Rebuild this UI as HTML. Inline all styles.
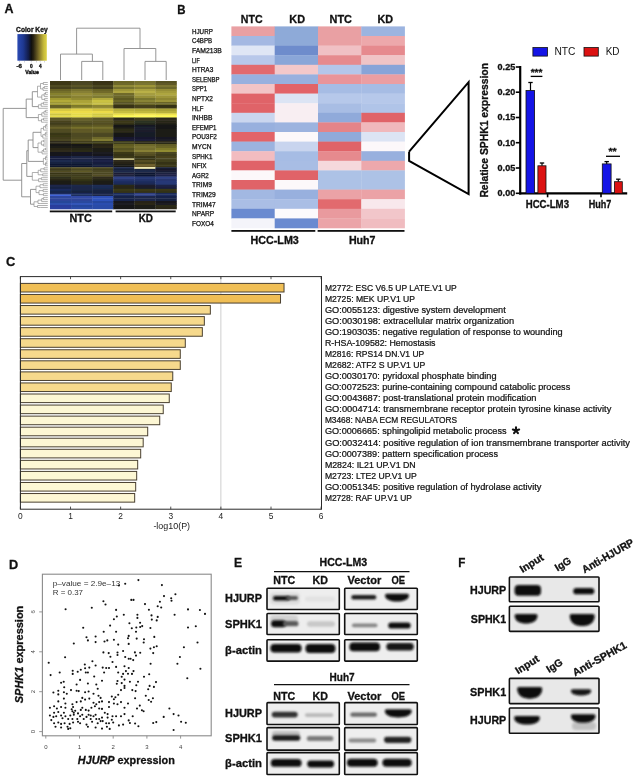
<!DOCTYPE html>
<html><head><meta charset="utf-8"><style>
html,body{margin:0;padding:0;background:#fff;}
body{width:639px;height:779px;overflow:hidden;}
svg{display:block;filter:blur(0.3px);}
text{font-family:"Liberation Sans",sans-serif;}
</style></head><body>
<svg width="639" height="779" viewBox="0 0 639 779" font-family="Liberation Sans, sans-serif">
<rect width="639" height="779" fill="#fff"/>
<text x="4.6" y="13.4" font-size="12.4" font-weight="bold" text-anchor="start" textLength="9.0" lengthAdjust="spacingAndGlyphs" fill="#111"  stroke="#111" stroke-width="0.3">A</text>
<text x="16.1" y="32.2" font-size="6.4" font-weight="bold" text-anchor="start" textLength="31.5" lengthAdjust="spacingAndGlyphs" fill="#111"  stroke="#111" stroke-width="0.3">Color Key</text>
<defs><linearGradient id="ck" x1="0" x2="1" y1="0" y2="0">
<stop offset="0" stop-color="#2a4ab4"/><stop offset="0.2" stop-color="#1e3890"/><stop offset="0.38" stop-color="#121c48"/>
<stop offset="0.47" stop-color="#0e0e0e"/><stop offset="0.55" stop-color="#2a2412"/><stop offset="0.72" stop-color="#7a6c28"/>
<stop offset="0.9" stop-color="#c8bc3c"/><stop offset="1" stop-color="#ddd244"/></linearGradient>
<filter id="blr" x="-20%" y="-50%" width="140%" height="200%"><feGaussianBlur stdDeviation="0.9"/></filter>
<filter id="blr2" x="-20%" y="-50%" width="140%" height="200%"><feGaussianBlur stdDeviation="1.3"/></filter>
<filter id="blr0" x="-5%" y="-5%" width="110%" height="110%"><feGaussianBlur stdDeviation="0.35"/></filter>
</defs>
<rect x="17.40" y="34.10" width="29.40" height="26.60" fill="url(#ck)" />
<line x1="19.4" y1="61.2" x2="19.4" y2="62.4" stroke="#99a" stroke-width="0.5" />
<line x1="24.5" y1="61.2" x2="24.5" y2="62.4" stroke="#99a" stroke-width="0.5" />
<line x1="31.3" y1="61.2" x2="31.3" y2="62.4" stroke="#99a" stroke-width="0.5" />
<line x1="36.5" y1="61.2" x2="36.5" y2="62.4" stroke="#99a" stroke-width="0.5" />
<line x1="40.2" y1="61.2" x2="40.2" y2="62.4" stroke="#99a" stroke-width="0.5" />
<line x1="44.5" y1="61.2" x2="44.5" y2="62.4" stroke="#99a" stroke-width="0.5" />
<text x="16.5" y="68.2" font-size="4.6" font-weight="bold" text-anchor="start" textLength="5.4" lengthAdjust="spacingAndGlyphs" fill="#111"  stroke="#111" stroke-width="0.3">-6</text>
<text x="30.0" y="68.2" font-size="4.6" font-weight="bold" text-anchor="start" textLength="2.7" lengthAdjust="spacingAndGlyphs" fill="#111"  stroke="#111" stroke-width="0.3">0</text>
<text x="39.0" y="68.2" font-size="4.6" font-weight="bold" text-anchor="start" textLength="2.6" lengthAdjust="spacingAndGlyphs" fill="#111"  stroke="#111" stroke-width="0.3">4</text>
<text x="25.3" y="74.0" font-size="4.6" font-weight="bold" text-anchor="start" textLength="13.5" lengthAdjust="spacingAndGlyphs" fill="#111"  stroke="#111" stroke-width="0.3">Value</text>
<polyline points="76.6,54.1 76.6,28.2 140.0,28.2 140.0,48.5" fill="none" stroke="#8a8a8a" stroke-width="0.9"/>
<polyline points="60.5,80.0 60.5,54.1 92.4,54.1 92.4,61.4" fill="none" stroke="#8a8a8a" stroke-width="0.9"/>
<polyline points="81.7,80.0 81.7,61.4 102.8,61.4 102.8,80.0" fill="none" stroke="#8a8a8a" stroke-width="0.9"/>
<polyline points="124.0,80.0 124.0,48.5 155.8,48.5 155.8,61.4" fill="none" stroke="#8a8a8a" stroke-width="0.9"/>
<polyline points="145.0,80.0 145.0,61.4 166.2,61.4 166.2,80.0" fill="none" stroke="#8a8a8a" stroke-width="0.9"/>
<g filter="url(#blr0)">
<rect x="50.00" y="81.00" width="21.38" height="2.30" fill="#3d3919" />
<rect x="50.00" y="83.00" width="21.38" height="2.30" fill="#3d3918" />
<rect x="71.08" y="81.00" width="21.38" height="2.30" fill="#494420" />
<rect x="71.08" y="83.00" width="21.38" height="2.30" fill="#4c4621" />
<rect x="92.17" y="81.00" width="21.38" height="2.30" fill="#383314" />
<rect x="92.17" y="83.00" width="21.38" height="2.30" fill="#3b3615" />
<rect x="113.25" y="81.00" width="21.38" height="2.30" fill="#6a6528" />
<rect x="113.25" y="83.00" width="21.38" height="2.30" fill="#6e692a" />
<rect x="134.33" y="81.00" width="21.38" height="2.30" fill="#756f2e" />
<rect x="134.33" y="83.00" width="21.38" height="2.30" fill="#7a7430" />
<rect x="155.42" y="81.00" width="21.38" height="2.30" fill="#565123" />
<rect x="155.42" y="83.00" width="21.38" height="2.30" fill="#5e5826" />
<rect x="50.00" y="85.00" width="21.38" height="2.30" fill="#504b23" />
<rect x="50.00" y="87.00" width="21.38" height="2.30" fill="#44401e" />
<rect x="71.08" y="85.00" width="21.38" height="2.30" fill="#5a5527" />
<rect x="71.08" y="87.00" width="21.38" height="2.30" fill="#4c4821" />
<rect x="92.17" y="85.00" width="21.38" height="2.30" fill="#4b4621" />
<rect x="92.17" y="87.00" width="21.38" height="2.30" fill="#3f3b1b" />
<rect x="113.25" y="85.00" width="21.38" height="2.30" fill="#918b38" />
<rect x="113.25" y="87.00" width="21.38" height="2.30" fill="#76722e" />
<rect x="134.33" y="85.00" width="21.38" height="2.30" fill="#9d9539" />
<rect x="134.33" y="87.00" width="21.38" height="2.30" fill="#867f31" />
<rect x="155.42" y="85.00" width="21.38" height="2.30" fill="#7b7530" />
<rect x="155.42" y="87.00" width="21.38" height="2.30" fill="#6c672b" />
<rect x="50.00" y="89.00" width="21.38" height="2.30" fill="#696427" />
<rect x="50.00" y="91.00" width="21.38" height="2.30" fill="#746f2c" />
<rect x="71.08" y="89.00" width="21.38" height="2.30" fill="#78722f" />
<rect x="71.08" y="91.00" width="21.38" height="2.30" fill="#867f35" />
<rect x="92.17" y="89.00" width="21.38" height="2.30" fill="#686327" />
<rect x="92.17" y="91.00" width="21.38" height="2.30" fill="#716b2b" />
<rect x="113.25" y="89.00" width="21.38" height="2.30" fill="#9e9639" />
<rect x="113.25" y="91.00" width="21.38" height="2.30" fill="#ada43f" />
<rect x="134.33" y="89.00" width="21.38" height="2.30" fill="#aaa241" />
<rect x="134.33" y="91.00" width="21.38" height="2.30" fill="#b9b046" />
<rect x="155.42" y="89.00" width="21.38" height="2.30" fill="#968e36" />
<rect x="155.42" y="91.00" width="21.38" height="2.30" fill="#a39b3b" />
<rect x="50.00" y="93.00" width="21.38" height="2.80" fill="#86812f" />
<rect x="50.00" y="95.50" width="21.38" height="2.80" fill="#7b762b" />
<rect x="71.08" y="93.00" width="21.38" height="2.80" fill="#968e37" />
<rect x="71.08" y="95.50" width="21.38" height="2.80" fill="#898232" />
<rect x="92.17" y="93.00" width="21.38" height="2.80" fill="#888334" />
<rect x="92.17" y="95.50" width="21.38" height="2.80" fill="#7f7b31" />
<rect x="113.25" y="93.00" width="21.38" height="2.80" fill="#6f6a2c" />
<rect x="113.25" y="95.50" width="21.38" height="2.80" fill="#6b662a" />
<rect x="134.33" y="93.00" width="21.38" height="2.80" fill="#a59d3f" />
<rect x="134.33" y="95.50" width="21.38" height="2.80" fill="#968f39" />
<rect x="155.42" y="93.00" width="21.38" height="2.80" fill="#aea63f" />
<rect x="155.42" y="95.50" width="21.38" height="2.80" fill="#9d9539" />
<rect x="50.00" y="98.00" width="21.38" height="2.30" fill="#a19a33" />
<rect x="50.00" y="100.00" width="21.38" height="2.30" fill="#b2aa39" />
<rect x="71.08" y="98.00" width="21.38" height="2.30" fill="#928b31" />
<rect x="71.08" y="100.00" width="21.38" height="2.30" fill="#aba339" />
<rect x="92.17" y="98.00" width="21.38" height="2.30" fill="#b3ab3c" />
<rect x="92.17" y="100.00" width="21.38" height="2.30" fill="#cac243" />
<rect x="113.25" y="98.00" width="21.38" height="2.30" fill="#5c5823" />
<rect x="113.25" y="100.00" width="21.38" height="2.30" fill="#6b6628" />
<rect x="134.33" y="98.00" width="21.38" height="2.30" fill="#78742e" />
<rect x="134.33" y="100.00" width="21.38" height="2.30" fill="#898435" />
<rect x="155.42" y="98.00" width="21.38" height="2.30" fill="#8e8633" />
<rect x="155.42" y="100.00" width="21.38" height="2.30" fill="#9b9338" />
<rect x="50.00" y="102.00" width="21.38" height="1.80" fill="#9e9834" />
<rect x="50.00" y="103.50" width="21.38" height="1.80" fill="#a19b35" />
<rect x="71.08" y="102.00" width="21.38" height="1.80" fill="#ada537" />
<rect x="71.08" y="103.50" width="21.38" height="1.80" fill="#b0a838" />
<rect x="92.17" y="102.00" width="21.38" height="1.80" fill="#c5bd44" />
<rect x="92.17" y="103.50" width="21.38" height="1.80" fill="#c4bc44" />
<rect x="113.25" y="102.00" width="21.38" height="1.80" fill="#595425" />
<rect x="113.25" y="103.50" width="21.38" height="1.80" fill="#575224" />
<rect x="134.33" y="102.00" width="21.38" height="1.80" fill="#706a2a" />
<rect x="134.33" y="103.50" width="21.38" height="1.80" fill="#6b6628" />
<rect x="155.42" y="102.00" width="21.38" height="1.80" fill="#6a6528" />
<rect x="155.42" y="103.50" width="21.38" height="1.80" fill="#6c6729" />
<rect x="50.00" y="105.00" width="21.38" height="2.05" fill="#656126" />
<rect x="50.00" y="106.75" width="21.38" height="2.05" fill="#686427" />
<rect x="71.08" y="105.00" width="21.38" height="2.05" fill="#7c782b" />
<rect x="71.08" y="106.75" width="21.38" height="2.05" fill="#8c8731" />
<rect x="92.17" y="105.00" width="21.38" height="2.05" fill="#8c8533" />
<rect x="92.17" y="106.75" width="21.38" height="2.05" fill="#938c36" />
<rect x="113.25" y="105.00" width="21.38" height="2.05" fill="#373214" />
<rect x="113.25" y="106.75" width="21.38" height="2.05" fill="#383314" />
<rect x="134.33" y="105.00" width="21.38" height="2.05" fill="#443f1d" />
<rect x="134.33" y="106.75" width="21.38" height="2.05" fill="#46411e" />
<rect x="155.42" y="105.00" width="21.38" height="2.05" fill="#343013" />
<rect x="155.42" y="106.75" width="21.38" height="2.05" fill="#393415" />
<rect x="50.00" y="108.50" width="21.38" height="2.80" fill="#d7c943" />
<rect x="50.00" y="111.00" width="21.38" height="2.80" fill="#eddc49" />
<rect x="71.08" y="108.50" width="21.38" height="2.80" fill="#e2d246" />
<rect x="71.08" y="111.00" width="21.38" height="2.80" fill="#eddd4a" />
<rect x="92.17" y="108.50" width="21.38" height="2.80" fill="#d3c441" />
<rect x="92.17" y="111.00" width="21.38" height="2.80" fill="#ecdb49" />
<rect x="113.25" y="108.50" width="21.38" height="2.80" fill="#b7b03b" />
<rect x="113.25" y="111.00" width="21.38" height="2.80" fill="#c7bf40" />
<rect x="134.33" y="108.50" width="21.38" height="2.80" fill="#b2ab38" />
<rect x="134.33" y="111.00" width="21.38" height="2.80" fill="#c1b93d" />
<rect x="155.42" y="108.50" width="21.38" height="2.80" fill="#a9a235" />
<rect x="155.42" y="111.00" width="21.38" height="2.80" fill="#b8b03a" />
<rect x="50.00" y="113.50" width="21.38" height="2.30" fill="#cec642" />
<rect x="50.00" y="115.50" width="21.38" height="2.30" fill="#e5dc49" />
<rect x="71.08" y="113.50" width="21.38" height="2.30" fill="#e3da48" />
<rect x="71.08" y="115.50" width="21.38" height="2.30" fill="#e8df4a" />
<rect x="92.17" y="113.50" width="21.38" height="2.30" fill="#d2ca43" />
<rect x="92.17" y="115.50" width="21.38" height="2.30" fill="#d6ce45" />
<rect x="113.25" y="113.50" width="21.38" height="2.30" fill="#ece049" />
<rect x="113.25" y="115.50" width="21.38" height="2.30" fill="#fffc53" />
<rect x="134.33" y="113.50" width="21.38" height="2.30" fill="#f8e853" />
<rect x="134.33" y="115.50" width="21.38" height="2.30" fill="#fffc5a" />
<rect x="155.42" y="113.50" width="21.38" height="2.30" fill="#f1e44b" />
<rect x="155.42" y="115.50" width="21.38" height="2.30" fill="#fffa52" />
<rect x="50.00" y="117.50" width="21.38" height="1.85" fill="#5a5525" />
<rect x="50.00" y="119.05" width="21.38" height="1.85" fill="#575224" />
<rect x="71.08" y="117.50" width="21.38" height="1.85" fill="#696428" />
<rect x="71.08" y="119.05" width="21.38" height="1.85" fill="#635e25" />
<rect x="92.17" y="117.50" width="21.38" height="1.85" fill="#5d5726" />
<rect x="92.17" y="119.05" width="21.38" height="1.85" fill="#585324" />
<rect x="113.25" y="117.50" width="21.38" height="1.85" fill="#2b2919" />
<rect x="113.25" y="119.05" width="21.38" height="1.85" fill="#272516" />
<rect x="134.33" y="117.50" width="21.38" height="1.85" fill="#3d3b19" />
<rect x="134.33" y="119.05" width="21.38" height="1.85" fill="#363416" />
<rect x="155.42" y="117.50" width="21.38" height="1.85" fill="#292718" />
<rect x="155.42" y="119.05" width="21.38" height="1.85" fill="#272516" />
<rect x="50.00" y="120.60" width="21.38" height="2.35" fill="#47421f" />
<rect x="50.00" y="122.65" width="21.38" height="2.35" fill="#413d1c" />
<rect x="71.08" y="120.60" width="21.38" height="2.35" fill="#595425" />
<rect x="71.08" y="122.65" width="21.38" height="2.35" fill="#4e4a20" />
<rect x="92.17" y="120.60" width="21.38" height="2.35" fill="#585324" />
<rect x="92.17" y="122.65" width="21.38" height="2.35" fill="#534e22" />
<rect x="113.25" y="120.60" width="21.38" height="2.35" fill="#3b3919" />
<rect x="113.25" y="122.65" width="21.38" height="2.35" fill="#353316" />
<rect x="134.33" y="120.60" width="21.38" height="2.35" fill="#2a3020" />
<rect x="134.33" y="122.65" width="21.38" height="2.35" fill="#262b1d" />
<rect x="155.42" y="120.60" width="21.38" height="2.35" fill="#282617" />
<rect x="155.42" y="122.65" width="21.38" height="2.35" fill="#242215" />
<rect x="50.00" y="124.70" width="21.38" height="2.35" fill="#514c21" />
<rect x="50.00" y="126.75" width="21.38" height="2.35" fill="#67612a" />
<rect x="71.08" y="124.70" width="21.38" height="2.35" fill="#5a5622" />
<rect x="71.08" y="126.75" width="21.38" height="2.35" fill="#76702c" />
<rect x="92.17" y="124.70" width="21.38" height="2.35" fill="#5e5923" />
<rect x="92.17" y="126.75" width="21.38" height="2.35" fill="#77712d" />
<rect x="113.25" y="124.70" width="21.38" height="2.35" fill="#171712" />
<rect x="113.25" y="126.75" width="21.38" height="2.35" fill="#1e1e18" />
<rect x="134.33" y="124.70" width="21.38" height="2.35" fill="#161924" />
<rect x="134.33" y="126.75" width="21.38" height="2.35" fill="#1d202e" />
<rect x="155.42" y="124.70" width="21.38" height="2.35" fill="#131313" />
<rect x="155.42" y="126.75" width="21.38" height="2.35" fill="#181818" />
<rect x="50.00" y="128.80" width="21.38" height="2.30" fill="#504b23" />
<rect x="50.00" y="130.80" width="21.38" height="2.30" fill="#504b23" />
<rect x="71.08" y="128.80" width="21.38" height="2.30" fill="#5e5927" />
<rect x="71.08" y="130.80" width="21.38" height="2.30" fill="#605a27" />
<rect x="92.17" y="128.80" width="21.38" height="2.30" fill="#625d28" />
<rect x="92.17" y="130.80" width="21.38" height="2.30" fill="#615c28" />
<rect x="113.25" y="128.80" width="21.38" height="2.30" fill="#2c2a19" />
<rect x="113.25" y="130.80" width="21.38" height="2.30" fill="#2d2b1a" />
<rect x="134.33" y="128.80" width="21.38" height="2.30" fill="#1c202e" />
<rect x="134.33" y="130.80" width="21.38" height="2.30" fill="#1b1f2c" />
<rect x="155.42" y="128.80" width="21.38" height="2.30" fill="#1c1c16" />
<rect x="155.42" y="130.80" width="21.38" height="2.30" fill="#1b1b16" />
<rect x="50.00" y="132.80" width="21.38" height="2.35" fill="#393718" />
<rect x="50.00" y="134.85" width="21.38" height="2.35" fill="#3c3a19" />
<rect x="71.08" y="132.80" width="21.38" height="2.35" fill="#4e4922" />
<rect x="71.08" y="134.85" width="21.38" height="2.35" fill="#4e4922" />
<rect x="92.17" y="132.80" width="21.38" height="2.35" fill="#4d4821" />
<rect x="92.17" y="134.85" width="21.38" height="2.35" fill="#4b4621" />
<rect x="113.25" y="132.80" width="21.38" height="2.35" fill="#161616" />
<rect x="113.25" y="134.85" width="21.38" height="2.35" fill="#161616" />
<rect x="134.33" y="132.80" width="21.38" height="2.35" fill="#151a26" />
<rect x="134.33" y="134.85" width="21.38" height="2.35" fill="#161b27" />
<rect x="155.42" y="132.80" width="21.38" height="2.35" fill="#1a1a15" />
<rect x="155.42" y="134.85" width="21.38" height="2.35" fill="#1b1b16" />
<rect x="50.00" y="136.90" width="21.38" height="2.35" fill="#423d1c" />
<rect x="50.00" y="138.95" width="21.38" height="2.35" fill="#4a4520" />
<rect x="71.08" y="136.90" width="21.38" height="2.35" fill="#514d21" />
<rect x="71.08" y="138.95" width="21.38" height="2.35" fill="#5c5726" />
<rect x="92.17" y="136.90" width="21.38" height="2.35" fill="#6d682b" />
<rect x="92.17" y="138.95" width="21.38" height="2.35" fill="#817b33" />
<rect x="113.25" y="136.90" width="21.38" height="2.35" fill="#17192e" />
<rect x="113.25" y="138.95" width="21.38" height="2.35" fill="#1a1d34" />
<rect x="134.33" y="136.90" width="21.38" height="2.35" fill="#17192e" />
<rect x="134.33" y="138.95" width="21.38" height="2.35" fill="#1b1e37" />
<rect x="155.42" y="136.90" width="21.38" height="2.35" fill="#171720" />
<rect x="155.42" y="138.95" width="21.38" height="2.35" fill="#1a1a25" />
<rect x="50.00" y="141.00" width="21.38" height="1.80" fill="#2e2c1a" />
<rect x="50.00" y="142.50" width="21.38" height="1.80" fill="#2d2b1a" />
<rect x="71.08" y="141.00" width="21.38" height="1.80" fill="#3f3d1a" />
<rect x="71.08" y="142.50" width="21.38" height="1.80" fill="#3d3b19" />
<rect x="92.17" y="141.00" width="21.38" height="1.80" fill="#3e3c1a" />
<rect x="92.17" y="142.50" width="21.38" height="1.80" fill="#3c3a19" />
<rect x="113.25" y="141.00" width="21.38" height="1.80" fill="#413f1b" />
<rect x="113.25" y="142.50" width="21.38" height="1.80" fill="#3e3c1a" />
<rect x="134.33" y="141.00" width="21.38" height="1.80" fill="#2f2d1b" />
<rect x="134.33" y="142.50" width="21.38" height="1.80" fill="#2b2919" />
<rect x="155.42" y="141.00" width="21.38" height="1.80" fill="#2e2c1b" />
<rect x="155.42" y="142.50" width="21.38" height="1.80" fill="#2b2919" />
<rect x="50.00" y="144.00" width="21.38" height="2.30" fill="#181814" />
<rect x="50.00" y="146.00" width="21.38" height="2.30" fill="#1b1b16" />
<rect x="71.08" y="144.00" width="21.38" height="2.30" fill="#181813" />
<rect x="71.08" y="146.00" width="21.38" height="2.30" fill="#1b1b16" />
<rect x="92.17" y="144.00" width="21.38" height="2.30" fill="#262416" />
<rect x="92.17" y="146.00" width="21.38" height="2.30" fill="#292717" />
<rect x="113.25" y="144.00" width="21.38" height="2.30" fill="#605c24" />
<rect x="113.25" y="146.00" width="21.38" height="2.30" fill="#686327" />
<rect x="134.33" y="144.00" width="21.38" height="2.30" fill="#6d672b" />
<rect x="134.33" y="146.00" width="21.38" height="2.30" fill="#797330" />
<rect x="155.42" y="144.00" width="21.38" height="2.30" fill="#625d25" />
<rect x="155.42" y="146.00" width="21.38" height="2.30" fill="#6a6528" />
<rect x="50.00" y="148.00" width="21.38" height="2.30" fill="#2a2818" />
<rect x="50.00" y="150.00" width="21.38" height="2.30" fill="#2d2b1a" />
<rect x="71.08" y="148.00" width="21.38" height="2.30" fill="#272516" />
<rect x="71.08" y="150.00" width="21.38" height="2.30" fill="#2c2a19" />
<rect x="92.17" y="148.00" width="21.38" height="2.30" fill="#1a1a15" />
<rect x="92.17" y="150.00" width="21.38" height="2.30" fill="#1b1b16" />
<rect x="113.25" y="148.00" width="21.38" height="2.30" fill="#575324" />
<rect x="113.25" y="150.00" width="21.38" height="2.30" fill="#625c28" />
<rect x="134.33" y="148.00" width="21.38" height="2.30" fill="#736d2d" />
<rect x="134.33" y="150.00" width="21.38" height="2.30" fill="#878035" />
<rect x="155.42" y="148.00" width="21.38" height="2.30" fill="#7f7a2c" />
<rect x="155.42" y="150.00" width="21.38" height="2.30" fill="#918c32" />
<rect x="50.00" y="152.00" width="21.38" height="2.30" fill="#15181f" />
<rect x="50.00" y="154.00" width="21.38" height="2.30" fill="#12151b" />
<rect x="71.08" y="152.00" width="21.38" height="2.30" fill="#141926" />
<rect x="71.08" y="154.00" width="21.38" height="2.30" fill="#121622" />
<rect x="92.17" y="152.00" width="21.38" height="2.30" fill="#1a1a20" />
<rect x="92.17" y="154.00" width="21.38" height="2.30" fill="#17171c" />
<rect x="113.25" y="152.00" width="21.38" height="2.30" fill="#3a3818" />
<rect x="113.25" y="154.00" width="21.38" height="2.30" fill="#343216" />
<rect x="134.33" y="152.00" width="21.38" height="2.30" fill="#5b5625" />
<rect x="134.33" y="154.00" width="21.38" height="2.30" fill="#534e22" />
<rect x="155.42" y="152.00" width="21.38" height="2.30" fill="#4a4520" />
<rect x="155.42" y="154.00" width="21.38" height="2.30" fill="#403c1c" />
<rect x="50.00" y="156.00" width="21.38" height="2.70" fill="#191f3e" />
<rect x="71.08" y="156.00" width="21.38" height="2.70" fill="#1f2645" />
<rect x="92.17" y="156.00" width="21.38" height="2.70" fill="#1a203f" />
<rect x="113.25" y="156.00" width="21.38" height="2.70" fill="#3b3918" />
<rect x="134.33" y="156.00" width="21.38" height="2.70" fill="#383617" />
<rect x="155.42" y="156.00" width="21.38" height="2.70" fill="#48431f" />
<rect x="50.00" y="158.40" width="21.38" height="1.90" fill="#191f3f" />
<rect x="71.08" y="158.40" width="21.38" height="1.90" fill="#1f2745" />
<rect x="92.17" y="158.40" width="21.38" height="1.90" fill="#191f3e" />
<rect x="113.25" y="158.40" width="21.38" height="1.90" fill="#c5bd7e" />
<rect x="134.33" y="158.40" width="21.38" height="1.90" fill="#373517" />
<rect x="155.42" y="158.40" width="21.38" height="1.90" fill="#494420" />
<rect x="50.00" y="160.00" width="21.38" height="2.30" fill="#1e2a4e" />
<rect x="50.00" y="162.00" width="21.38" height="2.30" fill="#18223f" />
<rect x="71.08" y="160.00" width="21.38" height="2.30" fill="#1c2749" />
<rect x="71.08" y="162.00" width="21.38" height="2.30" fill="#17213e" />
<rect x="92.17" y="160.00" width="21.38" height="2.30" fill="#1d2347" />
<rect x="92.17" y="162.00" width="21.38" height="2.30" fill="#181e3c" />
<rect x="113.25" y="160.00" width="21.38" height="2.30" fill="#2e2b1a" />
<rect x="113.25" y="162.00" width="21.38" height="2.30" fill="#262416" />
<rect x="134.33" y="160.00" width="21.38" height="2.30" fill="#544e24" />
<rect x="134.33" y="162.00" width="21.38" height="2.30" fill="#44401e" />
<rect x="155.42" y="160.00" width="21.38" height="2.30" fill="#42401b" />
<rect x="155.42" y="162.00" width="21.38" height="2.30" fill="#343216" />
<rect x="50.00" y="164.00" width="21.38" height="1.90" fill="#101633" />
<rect x="50.00" y="165.60" width="21.38" height="1.90" fill="#0e142e" />
<rect x="71.08" y="164.00" width="21.38" height="1.90" fill="#101632" />
<rect x="71.08" y="165.60" width="21.38" height="1.90" fill="#0e142d" />
<rect x="92.17" y="164.00" width="21.38" height="1.90" fill="#152041" />
<rect x="92.17" y="165.60" width="21.38" height="1.90" fill="#141f3d" />
<rect x="113.25" y="164.00" width="21.38" height="1.90" fill="#1c1c17" />
<rect x="113.25" y="165.60" width="21.38" height="1.90" fill="#191914" />
<rect x="134.33" y="164.00" width="21.38" height="1.90" fill="#6e5e2a" />
<rect x="134.33" y="165.60" width="21.38" height="1.90" fill="#655626" />
<rect x="155.42" y="164.00" width="21.38" height="1.90" fill="#3b3919" />
<rect x="155.42" y="165.60" width="21.38" height="1.90" fill="#383617" />
<rect x="50.00" y="167.20" width="21.38" height="1.90" fill="#4f4a22" />
<rect x="71.08" y="167.20" width="21.38" height="1.90" fill="#5e5927" />
<rect x="92.17" y="167.20" width="21.38" height="1.90" fill="#504b23" />
<rect x="113.25" y="167.20" width="21.38" height="1.90" fill="#1c284b" />
<rect x="134.33" y="167.20" width="21.38" height="1.90" fill="#fff8ba" />
<rect x="155.42" y="167.20" width="21.38" height="1.90" fill="#171c34" />
<rect x="50.00" y="168.80" width="21.38" height="2.15" fill="#3f3b1b" />
<rect x="50.00" y="170.65" width="21.38" height="2.15" fill="#514c23" />
<rect x="71.08" y="168.80" width="21.38" height="2.15" fill="#4e4920" />
<rect x="71.08" y="170.65" width="21.38" height="2.15" fill="#5f5a27" />
<rect x="92.17" y="168.80" width="21.38" height="2.15" fill="#433f1d" />
<rect x="92.17" y="170.65" width="21.38" height="2.15" fill="#4d4821" />
<rect x="113.25" y="168.80" width="21.38" height="2.15" fill="#16203b" />
<rect x="113.25" y="170.65" width="21.38" height="2.15" fill="#1c284a" />
<rect x="134.33" y="168.80" width="21.38" height="2.15" fill="#17213e" />
<rect x="134.33" y="170.65" width="21.38" height="2.15" fill="#1d294c" />
<rect x="155.42" y="168.80" width="21.38" height="2.15" fill="#13172b" />
<rect x="155.42" y="170.65" width="21.38" height="2.15" fill="#171d35" />
<rect x="50.00" y="172.50" width="21.38" height="2.35" fill="#383617" />
<rect x="50.00" y="174.55" width="21.38" height="2.35" fill="#3f3d1a" />
<rect x="71.08" y="172.50" width="21.38" height="2.35" fill="#3a3818" />
<rect x="71.08" y="174.55" width="21.38" height="2.35" fill="#3f3d1a" />
<rect x="92.17" y="172.50" width="21.38" height="2.35" fill="#4b4621" />
<rect x="92.17" y="174.55" width="21.38" height="2.35" fill="#534d24" />
<rect x="113.25" y="172.50" width="21.38" height="2.35" fill="#1a1d35" />
<rect x="113.25" y="174.55" width="21.38" height="2.35" fill="#1e213c" />
<rect x="134.33" y="172.50" width="21.38" height="2.35" fill="#0f1530" />
<rect x="134.33" y="174.55" width="21.38" height="2.35" fill="#101734" />
<rect x="155.42" y="172.50" width="21.38" height="2.35" fill="#1a203f" />
<rect x="155.42" y="174.55" width="21.38" height="2.35" fill="#1e2449" />
<rect x="50.00" y="176.60" width="21.38" height="2.35" fill="#2f2d1b" />
<rect x="50.00" y="178.65" width="21.38" height="2.35" fill="#292717" />
<rect x="71.08" y="176.60" width="21.38" height="2.35" fill="#403e1a" />
<rect x="71.08" y="178.65" width="21.38" height="2.35" fill="#363416" />
<rect x="92.17" y="176.60" width="21.38" height="2.35" fill="#2d2b1a" />
<rect x="92.17" y="178.65" width="21.38" height="2.35" fill="#272516" />
<rect x="113.25" y="176.60" width="21.38" height="2.35" fill="#2e4084" />
<rect x="113.25" y="178.65" width="21.38" height="2.35" fill="#273671" />
<rect x="134.33" y="176.60" width="21.38" height="2.35" fill="#273876" />
<rect x="134.33" y="178.65" width="21.38" height="2.35" fill="#24336c" />
<rect x="155.42" y="176.60" width="21.38" height="2.35" fill="#2e4084" />
<rect x="155.42" y="178.65" width="21.38" height="2.35" fill="#27366f" />
<rect x="50.00" y="180.70" width="21.38" height="2.30" fill="#1c1c17" />
<rect x="50.00" y="182.70" width="21.38" height="2.30" fill="#1b1b16" />
<rect x="71.08" y="180.70" width="21.38" height="2.30" fill="#2b2919" />
<rect x="71.08" y="182.70" width="21.38" height="2.30" fill="#2b2918" />
<rect x="92.17" y="180.70" width="21.38" height="2.30" fill="#1c1c16" />
<rect x="92.17" y="182.70" width="21.38" height="2.30" fill="#1b1b16" />
<rect x="113.25" y="180.70" width="21.38" height="2.30" fill="#1d2f62" />
<rect x="113.25" y="182.70" width="21.38" height="2.30" fill="#1a2a58" />
<rect x="134.33" y="180.70" width="21.38" height="2.30" fill="#1c2d5e" />
<rect x="134.33" y="182.70" width="21.38" height="2.30" fill="#1a2957" />
<rect x="155.42" y="180.70" width="21.38" height="2.30" fill="#273977" />
<rect x="155.42" y="182.70" width="21.38" height="2.30" fill="#273775" />
<rect x="50.00" y="184.70" width="21.38" height="2.35" fill="#1c284b" />
<rect x="50.00" y="186.75" width="21.38" height="2.35" fill="#192443" />
<rect x="71.08" y="184.70" width="21.38" height="2.35" fill="#1d294c" />
<rect x="71.08" y="186.75" width="21.38" height="2.35" fill="#1b2647" />
<rect x="92.17" y="184.70" width="21.38" height="2.35" fill="#1c2d55" />
<rect x="92.17" y="186.75" width="21.38" height="2.35" fill="#1a2b51" />
<rect x="113.25" y="184.70" width="21.38" height="2.35" fill="#2c2a19" />
<rect x="113.25" y="186.75" width="21.38" height="2.35" fill="#292717" />
<rect x="134.33" y="184.70" width="21.38" height="2.35" fill="#1c1f2d" />
<rect x="134.33" y="186.75" width="21.38" height="2.35" fill="#1a1d2a" />
<rect x="155.42" y="184.70" width="21.38" height="2.35" fill="#1c2345" />
<rect x="155.42" y="186.75" width="21.38" height="2.35" fill="#1a1f3f" />
<rect x="50.00" y="188.80" width="21.38" height="2.35" fill="#1b2c5c" />
<rect x="50.00" y="190.85" width="21.38" height="2.35" fill="#17254d" />
<rect x="71.08" y="188.80" width="21.38" height="2.35" fill="#1b2647" />
<rect x="71.08" y="190.85" width="21.38" height="2.35" fill="#17213d" />
<rect x="92.17" y="188.80" width="21.38" height="2.35" fill="#1a2545" />
<rect x="92.17" y="190.85" width="21.38" height="2.35" fill="#18223f" />
<rect x="113.25" y="188.80" width="21.38" height="2.35" fill="#3b3919" />
<rect x="113.25" y="190.85" width="21.38" height="2.35" fill="#343216" />
<rect x="134.33" y="188.80" width="21.38" height="2.35" fill="#3b3919" />
<rect x="134.33" y="190.85" width="21.38" height="2.35" fill="#353316" />
<rect x="155.42" y="188.80" width="21.38" height="2.35" fill="#3a3818" />
<rect x="155.42" y="190.85" width="21.38" height="2.35" fill="#333115" />
<rect x="50.00" y="192.90" width="21.38" height="1.90" fill="#1b2c5c" />
<rect x="71.08" y="192.90" width="21.38" height="1.90" fill="#1b2b5b" />
<rect x="92.17" y="192.90" width="21.38" height="1.90" fill="#1c2749" />
<rect x="113.25" y="192.90" width="21.38" height="1.90" fill="#1b2c5c" />
<rect x="134.33" y="192.90" width="21.38" height="1.90" fill="#2d3e7f" />
<rect x="155.42" y="192.90" width="21.38" height="1.90" fill="#1a2a59" />
<rect x="50.00" y="194.50" width="21.38" height="1.80" fill="#3f64d9" />
<rect x="71.08" y="194.50" width="21.38" height="1.80" fill="#1c2e60" />
<rect x="92.17" y="194.50" width="21.38" height="1.80" fill="#1b2748" />
<rect x="113.25" y="194.50" width="21.38" height="1.80" fill="#1b2c5c" />
<rect x="134.33" y="194.50" width="21.38" height="1.80" fill="#2e3f83" />
<rect x="155.42" y="194.50" width="21.38" height="1.80" fill="#1b2b5b" />
<rect x="50.00" y="196.00" width="21.38" height="2.80" fill="#2e469d" />
<rect x="50.00" y="198.50" width="21.38" height="2.80" fill="#2d449a" />
<rect x="71.08" y="196.00" width="21.38" height="2.80" fill="#3049a4" />
<rect x="71.08" y="198.50" width="21.38" height="2.80" fill="#2d459a" />
<rect x="92.17" y="196.00" width="21.38" height="2.80" fill="#2e50b6" />
<rect x="92.17" y="198.50" width="21.38" height="2.80" fill="#2f53bd" />
<rect x="113.25" y="196.00" width="21.38" height="2.80" fill="#172447" />
<rect x="113.25" y="198.50" width="21.38" height="2.80" fill="#172448" />
<rect x="134.33" y="196.00" width="21.38" height="2.80" fill="#1c284b" />
<rect x="134.33" y="198.50" width="21.38" height="2.80" fill="#1c284b" />
<rect x="155.42" y="196.00" width="21.38" height="2.80" fill="#182449" />
<rect x="155.42" y="198.50" width="21.38" height="2.80" fill="#162243" />
<rect x="50.00" y="201.00" width="21.38" height="2.30" fill="#284799" />
<rect x="50.00" y="203.00" width="21.38" height="2.30" fill="#2d50ad" />
<rect x="71.08" y="201.00" width="21.38" height="2.30" fill="#2b489e" />
<rect x="71.08" y="203.00" width="21.38" height="2.30" fill="#3254b8" />
<rect x="92.17" y="201.00" width="21.38" height="2.30" fill="#28469f" />
<rect x="92.17" y="203.00" width="21.38" height="2.30" fill="#2c4daf" />
<rect x="113.25" y="201.00" width="21.38" height="2.30" fill="#18181e" />
<rect x="113.25" y="203.00" width="21.38" height="2.30" fill="#1a1a21" />
<rect x="134.33" y="201.00" width="21.38" height="2.30" fill="#262416" />
<rect x="134.33" y="203.00" width="21.38" height="2.30" fill="#2a2818" />
<rect x="155.42" y="201.00" width="21.38" height="2.30" fill="#17171d" />
<rect x="155.42" y="203.00" width="21.38" height="2.30" fill="#1b1b22" />
<rect x="50.00" y="205.00" width="21.38" height="2.30" fill="#293e9c" />
<rect x="50.00" y="207.00" width="21.38" height="2.30" fill="#2a3f9f" />
<rect x="71.08" y="205.00" width="21.38" height="2.30" fill="#27479d" />
<rect x="71.08" y="207.00" width="21.38" height="2.30" fill="#2a4ba7" />
<rect x="92.17" y="205.00" width="21.38" height="2.30" fill="#2c4ba7" />
<rect x="92.17" y="207.00" width="21.38" height="2.30" fill="#2c4ca8" />
<rect x="113.25" y="205.00" width="21.38" height="2.30" fill="#141414" />
<rect x="113.25" y="207.00" width="21.38" height="2.30" fill="#151515" />
<rect x="134.33" y="205.00" width="21.38" height="2.30" fill="#1b1b16" />
<rect x="134.33" y="207.00" width="21.38" height="2.30" fill="#1a1a15" />
<rect x="155.42" y="205.00" width="21.38" height="2.30" fill="#2b2919" />
<rect x="155.42" y="207.00" width="21.38" height="2.30" fill="#2a2818" />
</g>
<rect x="49.80" y="210.50" width="62.40" height="1.80" fill="#111" />
<rect x="115.60" y="210.50" width="60.10" height="1.80" fill="#111" />
<text x="69.5" y="221.8" font-size="10.2" font-weight="bold" text-anchor="start" textLength="22.2" lengthAdjust="spacingAndGlyphs" fill="#111"  stroke="#111" stroke-width="0.3">NTC</text>
<text x="138.7" y="221.8" font-size="10.2" font-weight="bold" text-anchor="start" textLength="14.3" lengthAdjust="spacingAndGlyphs" fill="#111"  stroke="#111" stroke-width="0.3">KD</text>
<polyline points="45.0,82.5 47.8,82.5" fill="none" stroke="#888" stroke-width="0.65"/>
<polyline points="44.5,84.5 47.8,84.5" fill="none" stroke="#888" stroke-width="0.65"/>
<polyline points="45.0,82.5 43.3,82.5 43.3,84.5 44.5,84.5" fill="none" stroke="#888" stroke-width="0.65"/>
<polyline points="45.9,86.5 47.8,86.5" fill="none" stroke="#888" stroke-width="0.65"/>
<polyline points="45.3,88.4 47.8,88.4" fill="none" stroke="#888" stroke-width="0.65"/>
<polyline points="45.9,86.5 44.3,86.5 44.3,88.4 45.3,88.4" fill="none" stroke="#888" stroke-width="0.65"/>
<polyline points="44.3,90.4 47.8,90.4" fill="none" stroke="#888" stroke-width="0.65"/>
<polyline points="44.3,87.5 43.0,87.5 43.0,90.4 44.3,90.4" fill="none" stroke="#888" stroke-width="0.65"/>
<polyline points="43.3,83.5 40.5,83.5 40.5,88.9 43.0,88.9" fill="none" stroke="#888" stroke-width="0.65"/>
<polyline points="46.5,92.4 47.8,92.4" fill="none" stroke="#888" stroke-width="0.65"/>
<polyline points="46.2,94.4 47.8,94.4" fill="none" stroke="#888" stroke-width="0.65"/>
<polyline points="46.5,92.4 45.5,92.4 45.5,94.4 46.2,94.4" fill="none" stroke="#888" stroke-width="0.65"/>
<polyline points="46.0,96.4 47.8,96.4" fill="none" stroke="#888" stroke-width="0.65"/>
<polyline points="45.5,93.4 44.2,93.4 44.2,96.4 46.0,96.4" fill="none" stroke="#888" stroke-width="0.65"/>
<polyline points="45.6,98.4 47.8,98.4" fill="none" stroke="#888" stroke-width="0.65"/>
<polyline points="45.7,100.4 47.8,100.4" fill="none" stroke="#888" stroke-width="0.65"/>
<polyline points="45.6,98.4 44.7,98.4 44.7,100.4 45.7,100.4" fill="none" stroke="#888" stroke-width="0.65"/>
<polyline points="44.2,94.9 41.8,94.9 41.8,99.4 44.7,99.4" fill="none" stroke="#888" stroke-width="0.65"/>
<polyline points="40.5,86.2 37.5,86.2 37.5,97.1 41.8,97.1" fill="none" stroke="#888" stroke-width="0.65"/>
<polyline points="44.6,102.3 47.8,102.3" fill="none" stroke="#888" stroke-width="0.65"/>
<polyline points="44.8,104.3 47.8,104.3" fill="none" stroke="#888" stroke-width="0.65"/>
<polyline points="44.6,102.3 43.4,102.3 43.4,104.3 44.8,104.3" fill="none" stroke="#888" stroke-width="0.65"/>
<polyline points="43.7,106.3 47.8,106.3" fill="none" stroke="#888" stroke-width="0.65"/>
<polyline points="43.4,103.3 41.2,103.3 41.2,106.3 43.7,106.3" fill="none" stroke="#888" stroke-width="0.65"/>
<polyline points="42.1,108.3 47.8,108.3" fill="none" stroke="#888" stroke-width="0.65"/>
<polyline points="41.2,104.8 38.4,104.8 38.4,108.3 42.1,108.3" fill="none" stroke="#888" stroke-width="0.65"/>
<polyline points="37.5,91.7 32.3,91.7 32.3,106.6 38.4,106.6" fill="none" stroke="#8a8a8a" stroke-width="0.9"/>
<polyline points="46.4,110.3 47.8,110.3" fill="none" stroke="#888" stroke-width="0.65"/>
<polyline points="46.6,112.3 47.8,112.3" fill="none" stroke="#888" stroke-width="0.65"/>
<polyline points="46.4,110.3 45.6,110.3 45.6,112.3 46.6,112.3" fill="none" stroke="#888" stroke-width="0.65"/>
<polyline points="45.1,114.2 47.8,114.2" fill="none" stroke="#888" stroke-width="0.65"/>
<polyline points="45.6,111.3 44.0,111.3 44.0,114.2 45.1,114.2" fill="none" stroke="#888" stroke-width="0.65"/>
<polyline points="43.7,116.2 47.8,116.2" fill="none" stroke="#888" stroke-width="0.65"/>
<polyline points="44.0,112.8 41.8,112.8 41.8,116.2 43.7,116.2" fill="none" stroke="#888" stroke-width="0.65"/>
<polyline points="45.0,118.2 47.8,118.2" fill="none" stroke="#888" stroke-width="0.65"/>
<polyline points="45.4,120.2 47.8,120.2" fill="none" stroke="#888" stroke-width="0.65"/>
<polyline points="45.0,118.2 43.5,118.2 43.5,120.2 45.4,120.2" fill="none" stroke="#888" stroke-width="0.65"/>
<polyline points="44.6,122.2 47.8,122.2" fill="none" stroke="#888" stroke-width="0.65"/>
<polyline points="43.5,119.2 41.5,119.2 41.5,122.2 44.6,122.2" fill="none" stroke="#888" stroke-width="0.65"/>
<polyline points="41.8,114.5 38.4,114.5 38.4,120.7 41.5,120.7" fill="none" stroke="#888" stroke-width="0.65"/>
<polyline points="32.3,99.1 26.2,99.1 26.2,117.6 38.4,117.6" fill="none" stroke="#8a8a8a" stroke-width="0.9"/>
<polyline points="46.8,124.2 47.8,124.2" fill="none" stroke="#888" stroke-width="0.65"/>
<polyline points="46.8,126.1 47.8,126.1" fill="none" stroke="#888" stroke-width="0.65"/>
<polyline points="46.8,124.2 46.2,124.2 46.2,126.1 46.8,126.1" fill="none" stroke="#888" stroke-width="0.65"/>
<polyline points="46.4,128.1 47.8,128.1" fill="none" stroke="#888" stroke-width="0.65"/>
<polyline points="46.2,125.2 45.4,125.2 45.4,128.1 46.4,128.1" fill="none" stroke="#888" stroke-width="0.65"/>
<polyline points="45.2,130.1 47.8,130.1" fill="none" stroke="#888" stroke-width="0.65"/>
<polyline points="45.4,126.6 43.5,126.6 43.5,130.1 45.2,130.1" fill="none" stroke="#888" stroke-width="0.65"/>
<polyline points="46.8,132.1 47.8,132.1" fill="none" stroke="#888" stroke-width="0.65"/>
<polyline points="46.8,134.1 47.8,134.1" fill="none" stroke="#888" stroke-width="0.65"/>
<polyline points="46.8,132.1 45.9,132.1 45.9,134.1 46.8,134.1" fill="none" stroke="#888" stroke-width="0.65"/>
<polyline points="46.3,136.1 47.8,136.1" fill="none" stroke="#888" stroke-width="0.65"/>
<polyline points="45.9,133.1 45.2,133.1 45.2,136.1 46.3,136.1" fill="none" stroke="#888" stroke-width="0.65"/>
<polyline points="44.6,138.1 47.8,138.1" fill="none" stroke="#888" stroke-width="0.65"/>
<polyline points="45.2,134.6 42.8,134.6 42.8,138.1 44.6,138.1" fill="none" stroke="#888" stroke-width="0.65"/>
<polyline points="43.5,128.4 41.0,128.4 41.0,136.3 42.8,136.3" fill="none" stroke="#888" stroke-width="0.65"/>
<polyline points="44.8,140.0 47.8,140.0" fill="none" stroke="#888" stroke-width="0.65"/>
<polyline points="45.5,142.0 47.8,142.0" fill="none" stroke="#888" stroke-width="0.65"/>
<polyline points="44.8,140.0 43.7,140.0 43.7,142.0 45.5,142.0" fill="none" stroke="#888" stroke-width="0.65"/>
<polyline points="44.7,144.0 47.8,144.0" fill="none" stroke="#888" stroke-width="0.65"/>
<polyline points="44.8,146.0 47.8,146.0" fill="none" stroke="#888" stroke-width="0.65"/>
<polyline points="44.7,144.0 43.3,144.0 43.3,146.0 44.8,146.0" fill="none" stroke="#888" stroke-width="0.65"/>
<polyline points="43.7,141.0 41.4,141.0 41.4,145.0 43.3,145.0" fill="none" stroke="#888" stroke-width="0.65"/>
<polyline points="46.3,148.0 47.8,148.0" fill="none" stroke="#888" stroke-width="0.65"/>
<polyline points="46.4,150.0 47.8,150.0" fill="none" stroke="#888" stroke-width="0.65"/>
<polyline points="46.3,148.0 45.6,148.0 45.6,150.0 46.4,150.0" fill="none" stroke="#888" stroke-width="0.65"/>
<polyline points="45.5,151.9 47.8,151.9" fill="none" stroke="#888" stroke-width="0.65"/>
<polyline points="45.6,149.0 43.6,149.0 43.6,151.9 45.5,151.9" fill="none" stroke="#888" stroke-width="0.65"/>
<polyline points="44.2,153.9 47.8,153.9" fill="none" stroke="#888" stroke-width="0.65"/>
<polyline points="43.6,150.5 42.1,150.5 42.1,153.9 44.2,153.9" fill="none" stroke="#888" stroke-width="0.65"/>
<polyline points="41.4,143.0 38.0,143.0 38.0,152.2 42.1,152.2" fill="none" stroke="#888" stroke-width="0.65"/>
<polyline points="41.0,132.3 33.0,132.3 33.0,147.6 38.0,147.6" fill="none" stroke="#8a8a8a" stroke-width="0.9"/>
<polyline points="46.8,155.9 47.8,155.9" fill="none" stroke="#888" stroke-width="0.65"/>
<polyline points="46.8,157.9 47.8,157.9" fill="none" stroke="#888" stroke-width="0.65"/>
<polyline points="46.8,155.9 46.2,155.9 46.2,157.9 46.8,157.9" fill="none" stroke="#888" stroke-width="0.65"/>
<polyline points="46.2,159.9 47.8,159.9" fill="none" stroke="#888" stroke-width="0.65"/>
<polyline points="46.2,156.9 45.5,156.9 45.5,159.9 46.2,159.9" fill="none" stroke="#888" stroke-width="0.65"/>
<polyline points="46.8,161.9 47.8,161.9" fill="none" stroke="#888" stroke-width="0.65"/>
<polyline points="46.9,163.9 47.8,163.9" fill="none" stroke="#888" stroke-width="0.65"/>
<polyline points="46.8,161.9 46.1,161.9 46.1,163.9 46.9,163.9" fill="none" stroke="#888" stroke-width="0.65"/>
<polyline points="46.4,165.8 47.8,165.8" fill="none" stroke="#888" stroke-width="0.65"/>
<polyline points="46.1,162.9 45.6,162.9 45.6,165.8 46.4,165.8" fill="none" stroke="#888" stroke-width="0.65"/>
<polyline points="45.5,158.4 43.4,158.4 43.4,164.3 45.6,164.3" fill="none" stroke="#888" stroke-width="0.65"/>
<polyline points="33.0,140.0 28.2,140.0 28.2,161.4 43.4,161.4" fill="none" stroke="#8a8a8a" stroke-width="0.9"/>
<polyline points="45.3,167.8 47.8,167.8" fill="none" stroke="#888" stroke-width="0.65"/>
<polyline points="45.1,169.8 47.8,169.8" fill="none" stroke="#888" stroke-width="0.65"/>
<polyline points="45.3,167.8 44.0,167.8 44.0,169.8 45.1,169.8" fill="none" stroke="#888" stroke-width="0.65"/>
<polyline points="43.9,171.8 47.8,171.8" fill="none" stroke="#888" stroke-width="0.65"/>
<polyline points="44.0,168.8 40.7,168.8 40.7,171.8 43.9,171.8" fill="none" stroke="#888" stroke-width="0.65"/>
<polyline points="44.1,173.8 47.8,173.8" fill="none" stroke="#888" stroke-width="0.65"/>
<polyline points="44.1,175.8 47.8,175.8" fill="none" stroke="#888" stroke-width="0.65"/>
<polyline points="44.1,173.8 42.7,173.8 42.7,175.8 44.1,175.8" fill="none" stroke="#888" stroke-width="0.65"/>
<polyline points="40.7,170.3 38.2,170.3 38.2,174.8 42.7,174.8" fill="none" stroke="#888" stroke-width="0.65"/>
<polyline points="42.9,177.7 47.8,177.7" fill="none" stroke="#888" stroke-width="0.65"/>
<polyline points="43.1,179.7 47.8,179.7" fill="none" stroke="#888" stroke-width="0.65"/>
<polyline points="42.9,177.7 41.3,177.7 41.3,179.7 43.1,179.7" fill="none" stroke="#888" stroke-width="0.65"/>
<polyline points="41.7,181.7 47.8,181.7" fill="none" stroke="#888" stroke-width="0.65"/>
<polyline points="41.3,178.7 38.6,178.7 38.6,181.7 41.7,181.7" fill="none" stroke="#888" stroke-width="0.65"/>
<polyline points="38.2,172.5 32.3,172.5 32.3,180.2 38.6,180.2" fill="none" stroke="#888" stroke-width="0.65"/>
<polyline points="28.2,150.7 26.8,150.7 26.8,176.4 32.3,176.4" fill="none" stroke="#8a8a8a" stroke-width="0.9"/>
<polyline points="44.7,183.7 47.8,183.7" fill="none" stroke="#888" stroke-width="0.65"/>
<polyline points="44.7,185.7 47.8,185.7" fill="none" stroke="#888" stroke-width="0.65"/>
<polyline points="44.7,183.7 43.2,183.7 43.2,185.7 44.7,185.7" fill="none" stroke="#888" stroke-width="0.65"/>
<polyline points="42.3,187.7 47.8,187.7" fill="none" stroke="#888" stroke-width="0.65"/>
<polyline points="43.2,184.7 40.0,184.7 40.0,187.7 42.3,187.7" fill="none" stroke="#888" stroke-width="0.65"/>
<polyline points="44.8,189.6 47.8,189.6" fill="none" stroke="#888" stroke-width="0.65"/>
<polyline points="44.4,191.6 47.8,191.6" fill="none" stroke="#888" stroke-width="0.65"/>
<polyline points="44.8,189.6 43.1,189.6 43.1,191.6 44.4,191.6" fill="none" stroke="#888" stroke-width="0.65"/>
<polyline points="44.9,193.6 47.8,193.6" fill="none" stroke="#888" stroke-width="0.65"/>
<polyline points="44.8,195.6 47.8,195.6" fill="none" stroke="#888" stroke-width="0.65"/>
<polyline points="44.9,193.6 43.4,193.6 43.4,195.6 44.8,195.6" fill="none" stroke="#888" stroke-width="0.65"/>
<polyline points="43.1,190.6 39.0,190.6 39.0,194.6 43.4,194.6" fill="none" stroke="#888" stroke-width="0.65"/>
<polyline points="40.0,186.2 36.0,186.2 36.0,192.6 39.0,192.6" fill="none" stroke="#888" stroke-width="0.65"/>
<polyline points="45.4,197.6 47.8,197.6" fill="none" stroke="#888" stroke-width="0.65"/>
<polyline points="45.2,199.6 47.8,199.6" fill="none" stroke="#888" stroke-width="0.65"/>
<polyline points="45.4,197.6 43.3,197.6 43.3,199.6 45.2,199.6" fill="none" stroke="#888" stroke-width="0.65"/>
<polyline points="44.1,201.6 47.8,201.6" fill="none" stroke="#888" stroke-width="0.65"/>
<polyline points="43.3,198.6 41.7,198.6 41.7,201.6 44.1,201.6" fill="none" stroke="#888" stroke-width="0.65"/>
<polyline points="40.8,203.5 47.8,203.5" fill="none" stroke="#888" stroke-width="0.65"/>
<polyline points="41.7,200.1 38.0,200.1 38.0,203.5 40.8,203.5" fill="none" stroke="#888" stroke-width="0.65"/>
<polyline points="41.0,205.5 47.8,205.5" fill="none" stroke="#888" stroke-width="0.65"/>
<polyline points="40.5,207.5 47.8,207.5" fill="none" stroke="#888" stroke-width="0.65"/>
<polyline points="41.0,205.5 37.5,205.5 37.5,207.5 40.5,207.5" fill="none" stroke="#888" stroke-width="0.65"/>
<polyline points="38.0,201.8 34.0,201.8 34.0,206.5 37.5,206.5" fill="none" stroke="#888" stroke-width="0.65"/>
<polyline points="36.0,189.4 30.5,189.4 30.5,204.2 34.0,204.2" fill="none" stroke="#8a8a8a" stroke-width="0.9"/>
<polyline points="26.8,163.5 21.7,163.5 21.7,196.8 30.5,196.8" fill="none" stroke="#8a8a8a" stroke-width="0.9"/>
<polyline points="26.2,108.4 3.2,108.4 3.2,180.2 21.7,180.2" fill="none" stroke="#8a8a8a" stroke-width="0.9"/>
<text x="177.3" y="13.5" font-size="12.6" font-weight="bold" text-anchor="start" textLength="8.3" lengthAdjust="spacingAndGlyphs" fill="#111"  stroke="#111" stroke-width="0.3">B</text>
<text x="240.8" y="22.6" font-size="10.8" font-weight="bold" text-anchor="start" textLength="21.8" lengthAdjust="spacingAndGlyphs" fill="#111"  stroke="#111" stroke-width="0.3">NTC</text>
<text x="289.3" y="22.6" font-size="10.8" font-weight="bold" text-anchor="start" textLength="15.7" lengthAdjust="spacingAndGlyphs" fill="#111"  stroke="#111" stroke-width="0.3">KD</text>
<text x="329.6" y="22.6" font-size="10.8" font-weight="bold" text-anchor="start" textLength="22.4" lengthAdjust="spacingAndGlyphs" fill="#111"  stroke="#111" stroke-width="0.3">NTC</text>
<text x="377.4" y="22.6" font-size="10.8" font-weight="bold" text-anchor="start" textLength="15.6" lengthAdjust="spacingAndGlyphs" fill="#111"  stroke="#111" stroke-width="0.3">KD</text>
<g filter="url(#blr0)">
<rect x="231.40" y="26.40" width="43.60" height="9.90" fill="#e9a0a3" />
<rect x="274.70" y="26.40" width="43.60" height="9.90" fill="#8eaad8" />
<rect x="318.00" y="26.40" width="43.60" height="9.90" fill="#e9a0a3" />
<rect x="361.30" y="26.40" width="43.60" height="9.90" fill="#9cb4e0" />
<rect x="231.40" y="36.00" width="43.60" height="9.90" fill="#a4b8e2" />
<rect x="274.70" y="36.00" width="43.60" height="9.90" fill="#8eaad8" />
<rect x="318.00" y="36.00" width="43.60" height="9.90" fill="#e9a0a3" />
<rect x="361.30" y="36.00" width="43.60" height="9.90" fill="#eda8ab" />
<rect x="231.40" y="45.60" width="43.60" height="9.90" fill="#dfe6f5" />
<rect x="274.70" y="45.60" width="43.60" height="9.90" fill="#6e8ccc" />
<rect x="318.00" y="45.60" width="43.60" height="9.90" fill="#f0c0c4" />
<rect x="361.30" y="45.60" width="43.60" height="9.90" fill="#e68a8e" />
<rect x="231.40" y="55.20" width="43.60" height="9.90" fill="#b8c8ea" />
<rect x="274.70" y="55.20" width="43.60" height="9.90" fill="#8aa6d8" />
<rect x="318.00" y="55.20" width="43.60" height="9.90" fill="#e68a8e" />
<rect x="361.30" y="55.20" width="43.60" height="9.90" fill="#f0c4c6" />
<rect x="231.40" y="64.80" width="43.60" height="9.90" fill="#e26a6e" />
<rect x="274.70" y="64.80" width="43.60" height="9.90" fill="#f3c8ca" />
<rect x="318.00" y="64.80" width="43.60" height="9.90" fill="#b4c6ea" />
<rect x="361.30" y="64.80" width="43.60" height="9.90" fill="#88a4d8" />
<rect x="231.40" y="74.40" width="43.60" height="9.90" fill="#98b0de" />
<rect x="274.70" y="74.40" width="43.60" height="9.90" fill="#98b0de" />
<rect x="318.00" y="74.40" width="43.60" height="9.90" fill="#e99499" />
<rect x="361.30" y="74.40" width="43.60" height="9.90" fill="#eb9ea2" />
<rect x="231.40" y="84.00" width="43.60" height="9.90" fill="#f2c4c6" />
<rect x="274.70" y="84.00" width="43.60" height="9.90" fill="#e26468" />
<rect x="318.00" y="84.00" width="43.60" height="9.90" fill="#a6bce4" />
<rect x="361.30" y="84.00" width="43.60" height="9.90" fill="#a6bce4" />
<rect x="231.40" y="93.60" width="43.60" height="9.90" fill="#e06468" />
<rect x="274.70" y="93.60" width="43.60" height="9.90" fill="#dce4f4" />
<rect x="318.00" y="93.60" width="43.60" height="9.90" fill="#b6c8ea" />
<rect x="361.30" y="93.60" width="43.60" height="9.90" fill="#b6c8ea" />
<rect x="231.40" y="103.20" width="43.60" height="9.90" fill="#e06468" />
<rect x="274.70" y="103.20" width="43.60" height="9.90" fill="#f8eef2" />
<rect x="318.00" y="103.20" width="43.60" height="9.90" fill="#a8bde4" />
<rect x="361.30" y="103.20" width="43.60" height="9.90" fill="#b0c4e8" />
<rect x="231.40" y="112.80" width="43.60" height="9.90" fill="#cad6ef" />
<rect x="274.70" y="112.80" width="43.60" height="9.90" fill="#f8eef2" />
<rect x="318.00" y="112.80" width="43.60" height="9.90" fill="#90aada" />
<rect x="361.30" y="112.80" width="43.60" height="9.90" fill="#e06468" />
<rect x="231.40" y="122.40" width="43.60" height="9.90" fill="#98b0de" />
<rect x="274.70" y="122.40" width="43.60" height="9.90" fill="#9cb3df" />
<rect x="318.00" y="122.40" width="43.60" height="9.90" fill="#e48488" />
<rect x="361.30" y="122.40" width="43.60" height="9.90" fill="#f0b8bc" />
<rect x="231.40" y="132.00" width="43.60" height="9.90" fill="#e26468" />
<rect x="274.70" y="132.00" width="43.60" height="9.90" fill="#fcf8fa" />
<rect x="318.00" y="132.00" width="43.60" height="9.90" fill="#90aada" />
<rect x="361.30" y="132.00" width="43.60" height="9.90" fill="#dce4f4" />
<rect x="231.40" y="141.60" width="43.60" height="9.90" fill="#9cb3df" />
<rect x="274.70" y="141.60" width="43.60" height="9.90" fill="#c8d4ee" />
<rect x="318.00" y="141.60" width="43.60" height="9.90" fill="#e06468" />
<rect x="361.30" y="141.60" width="43.60" height="9.90" fill="#fcf8fa" />
<rect x="231.40" y="151.20" width="43.60" height="9.90" fill="#f2bcc0" />
<rect x="274.70" y="151.20" width="43.60" height="9.90" fill="#a6bce4" />
<rect x="318.00" y="151.20" width="43.60" height="9.90" fill="#e68a8e" />
<rect x="361.30" y="151.20" width="43.60" height="9.90" fill="#98b0de" />
<rect x="231.40" y="160.80" width="43.60" height="9.90" fill="#e06468" />
<rect x="274.70" y="160.80" width="43.60" height="9.90" fill="#a8bde4" />
<rect x="318.00" y="160.80" width="43.60" height="9.90" fill="#f5d8dc" />
<rect x="361.30" y="160.80" width="43.60" height="9.90" fill="#eda8ac" />
<rect x="231.40" y="170.40" width="43.60" height="9.90" fill="#fcf8fa" />
<rect x="274.70" y="170.40" width="43.60" height="9.90" fill="#e06468" />
<rect x="318.00" y="170.40" width="43.60" height="9.90" fill="#adc2e6" />
<rect x="361.30" y="170.40" width="43.60" height="9.90" fill="#adc2e6" />
<rect x="231.40" y="180.00" width="43.60" height="9.90" fill="#e06468" />
<rect x="274.70" y="180.00" width="43.60" height="9.90" fill="#fcf8fa" />
<rect x="318.00" y="180.00" width="43.60" height="9.90" fill="#adc2e6" />
<rect x="361.30" y="180.00" width="43.60" height="9.90" fill="#adc2e6" />
<rect x="231.40" y="189.60" width="43.60" height="9.90" fill="#a2b8e2" />
<rect x="274.70" y="189.60" width="43.60" height="9.90" fill="#98b0de" />
<rect x="318.00" y="189.60" width="43.60" height="9.90" fill="#eba2a6" />
<rect x="361.30" y="189.60" width="43.60" height="9.90" fill="#eba2a6" />
<rect x="231.40" y="199.20" width="43.60" height="9.90" fill="#aabee5" />
<rect x="274.70" y="199.20" width="43.60" height="9.90" fill="#aabee5" />
<rect x="318.00" y="199.20" width="43.60" height="9.90" fill="#e26a6e" />
<rect x="361.30" y="199.20" width="43.60" height="9.90" fill="#f8e8ec" />
<rect x="231.40" y="208.80" width="43.60" height="9.90" fill="#6a8ad0" />
<rect x="274.70" y="208.80" width="43.60" height="9.90" fill="#fcfafc" />
<rect x="318.00" y="208.80" width="43.60" height="9.90" fill="#e99a9e" />
<rect x="361.30" y="208.80" width="43.60" height="9.90" fill="#f2c6ca" />
<rect x="231.40" y="218.40" width="43.60" height="9.90" fill="#f4f4fa" />
<rect x="274.70" y="218.40" width="43.60" height="9.90" fill="#6a8ad0" />
<rect x="318.00" y="218.40" width="43.60" height="9.90" fill="#eba4a8" />
<rect x="361.30" y="218.40" width="43.60" height="9.90" fill="#f0bcc0" />
</g>
<text x="192" y="33.8" font-size="6.3" font-weight="normal" text-anchor="start" textLength="20.8" lengthAdjust="spacingAndGlyphs" fill="#111" stroke="#111" stroke-width="0.25">HJURP</text>
<text x="192" y="43.4" font-size="6.3" font-weight="normal" text-anchor="start" textLength="20.1" lengthAdjust="spacingAndGlyphs" fill="#111" stroke="#111" stroke-width="0.25">C4BPB</text>
<text x="192" y="53.0" font-size="6.3" font-weight="normal" text-anchor="start" textLength="29.8" lengthAdjust="spacingAndGlyphs" fill="#111" stroke="#111" stroke-width="0.25">FAM213B</text>
<text x="192" y="62.6" font-size="6.3" font-weight="normal" text-anchor="start" textLength="7.7" lengthAdjust="spacingAndGlyphs" fill="#111" stroke="#111" stroke-width="0.25">LIF</text>
<text x="192" y="72.2" font-size="6.3" font-weight="normal" text-anchor="start" textLength="21.3" lengthAdjust="spacingAndGlyphs" fill="#111" stroke="#111" stroke-width="0.25">HTRA3</text>
<text x="192" y="81.8" font-size="6.3" font-weight="normal" text-anchor="start" textLength="27.6" lengthAdjust="spacingAndGlyphs" fill="#111" stroke="#111" stroke-width="0.25">SELENBP</text>
<text x="192" y="91.4" font-size="6.3" font-weight="normal" text-anchor="start" textLength="15.0" lengthAdjust="spacingAndGlyphs" fill="#111" stroke="#111" stroke-width="0.25">SPP1</text>
<text x="192" y="101.0" font-size="6.3" font-weight="normal" text-anchor="start" textLength="20.8" lengthAdjust="spacingAndGlyphs" fill="#111" stroke="#111" stroke-width="0.25">NPTX2</text>
<text x="192" y="110.6" font-size="6.3" font-weight="normal" text-anchor="start" textLength="11.4" lengthAdjust="spacingAndGlyphs" fill="#111" stroke="#111" stroke-width="0.25">HLF</text>
<text x="192" y="120.2" font-size="6.3" font-weight="normal" text-anchor="start" textLength="20.4" lengthAdjust="spacingAndGlyphs" fill="#111" stroke="#111" stroke-width="0.25">INHBB</text>
<text x="192" y="129.8" font-size="6.3" font-weight="normal" text-anchor="start" textLength="24.4" lengthAdjust="spacingAndGlyphs" fill="#111" stroke="#111" stroke-width="0.25">EFEMP1</text>
<text x="192" y="139.4" font-size="6.3" font-weight="normal" text-anchor="start" textLength="24.9" lengthAdjust="spacingAndGlyphs" fill="#111" stroke="#111" stroke-width="0.25">POU3F2</text>
<text x="192" y="149.0" font-size="6.3" font-weight="normal" text-anchor="start" textLength="19.5" lengthAdjust="spacingAndGlyphs" fill="#111" stroke="#111" stroke-width="0.25">MYCN</text>
<text x="192" y="158.6" font-size="6.3" font-weight="normal" text-anchor="start" textLength="20.4" lengthAdjust="spacingAndGlyphs" fill="#111" stroke="#111" stroke-width="0.25">SPHK1</text>
<text x="192" y="168.2" font-size="6.3" font-weight="normal" text-anchor="start" textLength="14.6" lengthAdjust="spacingAndGlyphs" fill="#111" stroke="#111" stroke-width="0.25">NFIX</text>
<text x="192" y="177.8" font-size="6.3" font-weight="normal" text-anchor="start" textLength="16.8" lengthAdjust="spacingAndGlyphs" fill="#111" stroke="#111" stroke-width="0.25">AGR2</text>
<text x="192" y="187.4" font-size="6.3" font-weight="normal" text-anchor="start" textLength="19.9" lengthAdjust="spacingAndGlyphs" fill="#111" stroke="#111" stroke-width="0.25">TRIM9</text>
<text x="192" y="197.0" font-size="6.3" font-weight="normal" text-anchor="start" textLength="23.7" lengthAdjust="spacingAndGlyphs" fill="#111" stroke="#111" stroke-width="0.25">TRIM29</text>
<text x="192" y="206.6" font-size="6.3" font-weight="normal" text-anchor="start" textLength="23.6" lengthAdjust="spacingAndGlyphs" fill="#111" stroke="#111" stroke-width="0.25">TRIM47</text>
<text x="192" y="216.2" font-size="6.3" font-weight="normal" text-anchor="start" textLength="22.2" lengthAdjust="spacingAndGlyphs" fill="#111" stroke="#111" stroke-width="0.25">NPARP</text>
<text x="192" y="225.8" font-size="6.3" font-weight="normal" text-anchor="start" textLength="21.9" lengthAdjust="spacingAndGlyphs" fill="#111" stroke="#111" stroke-width="0.25">FOXO4</text>
<rect x="231.40" y="230.00" width="83.90" height="1.80" fill="#111" />
<rect x="317.60" y="230.00" width="86.90" height="1.80" fill="#111" />
<text x="250.5" y="244.0" font-size="10.2" font-weight="bold" text-anchor="start" textLength="48.3" lengthAdjust="spacingAndGlyphs" fill="#111"  stroke="#111" stroke-width="0.3">HCC-LM3</text>
<text x="348.9" y="244.0" font-size="10.2" font-weight="bold" text-anchor="start" textLength="26.6" lengthAdjust="spacingAndGlyphs" fill="#111"  stroke="#111" stroke-width="0.3">Huh7</text>
<polyline points="409.1,151.7 468.6,82.2 468.6,194.1 409.1,160.9 409.1,151.7" fill="none" stroke="#000" stroke-width="2"/>
<line x1="520.2" y1="66.0" x2="520.2" y2="194.5" stroke="#000" stroke-width="2.2" />
<line x1="519.1" y1="193.4" x2="627.2" y2="193.4" stroke="#000" stroke-width="2.2" />
<line x1="515.8" y1="67.0" x2="520.2" y2="67.0" stroke="#000" stroke-width="1.6" />
<text x="515.2" y="69.9" font-size="8.4" font-weight="bold" text-anchor="end" textLength="17.6" lengthAdjust="spacingAndGlyphs" fill="#111"  stroke="#111" stroke-width="0.3">0.25</text>
<line x1="515.8" y1="92.2" x2="520.2" y2="92.2" stroke="#000" stroke-width="1.6" />
<text x="515.2" y="95.10000000000001" font-size="8.4" font-weight="bold" text-anchor="end" textLength="17.6" lengthAdjust="spacingAndGlyphs" fill="#111"  stroke="#111" stroke-width="0.3">0.20</text>
<line x1="515.8" y1="117.5" x2="520.2" y2="117.5" stroke="#000" stroke-width="1.6" />
<text x="515.2" y="120.4" font-size="8.4" font-weight="bold" text-anchor="end" textLength="17.6" lengthAdjust="spacingAndGlyphs" fill="#111"  stroke="#111" stroke-width="0.3">0.15</text>
<line x1="515.8" y1="142.7" x2="520.2" y2="142.7" stroke="#000" stroke-width="1.6" />
<text x="515.2" y="145.6" font-size="8.4" font-weight="bold" text-anchor="end" textLength="17.6" lengthAdjust="spacingAndGlyphs" fill="#111"  stroke="#111" stroke-width="0.3">0.10</text>
<line x1="515.8" y1="168.0" x2="520.2" y2="168.0" stroke="#000" stroke-width="1.6" />
<text x="515.2" y="170.9" font-size="8.4" font-weight="bold" text-anchor="end" textLength="17.6" lengthAdjust="spacingAndGlyphs" fill="#111"  stroke="#111" stroke-width="0.3">0.05</text>
<line x1="515.8" y1="193.3" x2="520.2" y2="193.3" stroke="#000" stroke-width="1.6" />
<text x="515.2" y="196.20000000000002" font-size="8.4" font-weight="bold" text-anchor="end" textLength="17.6" lengthAdjust="spacingAndGlyphs" fill="#111"  stroke="#111" stroke-width="0.3">0.00</text>
<line x1="547.6" y1="193.4" x2="547.6" y2="197.3" stroke="#000" stroke-width="1.6" />
<line x1="601.0" y1="193.4" x2="601.0" y2="197.3" stroke="#000" stroke-width="1.6" />
<line x1="530.5" y1="82.5" x2="530.5" y2="90.5" stroke="#000" stroke-width="1.2" />
<line x1="528.3" y1="82.5" x2="532.7" y2="82.5" stroke="#000" stroke-width="1.3" />
<rect x="526.00" y="90.50" width="8.60" height="102.80" fill="#1414e6" stroke="#111" stroke-width="0.8" />
<line x1="542.0" y1="163.0" x2="542.0" y2="165.8" stroke="#000" stroke-width="1.2" />
<line x1="539.8" y1="163.0" x2="544.2" y2="163.0" stroke="#000" stroke-width="1.3" />
<rect x="537.90" y="165.80" width="8.10" height="27.50" fill="#dc1212" stroke="#111" stroke-width="0.8" />
<line x1="606.7" y1="161.6" x2="606.7" y2="163.9" stroke="#000" stroke-width="1.2" />
<line x1="604.5" y1="161.6" x2="608.9000000000001" y2="161.6" stroke="#000" stroke-width="1.3" />
<rect x="602.30" y="163.90" width="8.80" height="29.40" fill="#1414e6" stroke="#111" stroke-width="0.8" />
<line x1="618.3" y1="179.2" x2="618.3" y2="181.7" stroke="#000" stroke-width="1.2" />
<line x1="616.0999999999999" y1="179.2" x2="620.5" y2="179.2" stroke="#000" stroke-width="1.3" />
<rect x="614.40" y="181.70" width="7.90" height="11.60" fill="#dc1212" stroke="#111" stroke-width="0.8" />
<text x="530.7" y="74.6" font-size="9.5" font-weight="bold" text-anchor="start" textLength="11.7" lengthAdjust="spacingAndGlyphs" fill="#111"  stroke="#111" stroke-width="0.3">***</text>
<line x1="530.7" y1="76.4" x2="542.4" y2="76.4" stroke="#000" stroke-width="1.3" />
<text x="608.4" y="154.0" font-size="9.5" font-weight="bold" text-anchor="start" textLength="8.2" lengthAdjust="spacingAndGlyphs" fill="#111"  stroke="#111" stroke-width="0.3">**</text>
<line x1="606.0" y1="156.3" x2="620.0" y2="156.3" stroke="#000" stroke-width="1.3" />
<text x="525.7" y="207.8" font-size="10.5" font-weight="bold" text-anchor="start" textLength="43.3" lengthAdjust="spacingAndGlyphs" fill="#111"  stroke="#111" stroke-width="0.3">HCC-LM3</text>
<text x="588.7" y="207.8" font-size="10.5" font-weight="bold" text-anchor="start" textLength="22.7" lengthAdjust="spacingAndGlyphs" fill="#111"  stroke="#111" stroke-width="0.3">Huh7</text>
<rect x="532.90" y="47.50" width="14.60" height="8.60" fill="#1414e6" stroke="#111" stroke-width="0.8" />
<text x="554.4" y="55.3" font-size="10" font-weight="normal" text-anchor="start" textLength="21" lengthAdjust="spacingAndGlyphs" fill="#111" >NTC</text>
<rect x="584.00" y="47.50" width="14.30" height="8.60" fill="#dc1212" stroke="#111" stroke-width="0.8" />
<text x="605.7" y="55.3" font-size="10" font-weight="normal" text-anchor="start" textLength="13.8" lengthAdjust="spacingAndGlyphs" fill="#111" >KD</text>
<text transform="translate(488.2,197.6) rotate(-90)" font-size="10.3" font-weight="bold" textLength="134.6" lengthAdjust="spacingAndGlyphs" fill="#111" stroke="#111" stroke-width="0.3">Relatice SPHK1 expression</text>
<text x="5.9" y="266.2" font-size="13.2" font-weight="bold" text-anchor="start" textLength="9.3" lengthAdjust="spacingAndGlyphs" fill="#111"  stroke="#111" stroke-width="0.3">C</text>
<line x1="220.88" y1="276.6" x2="220.88" y2="509.2" stroke="#c8c8c8" stroke-width="0.9" />
<rect x="20.40" y="283.40" width="263.63" height="8.60" fill="#f0bf56" stroke="#4a4030" stroke-width="1.0" />
<rect x="20.40" y="294.46" width="260.12" height="8.60" fill="#f0be55" stroke="#4a4030" stroke-width="1.0" />
<rect x="20.40" y="305.52" width="189.95" height="8.60" fill="#f6d98c" stroke="#4a4030" stroke-width="1.0" />
<rect x="20.40" y="316.58" width="183.94" height="8.60" fill="#f6d98c" stroke="#4a4030" stroke-width="1.0" />
<rect x="20.40" y="327.64" width="181.94" height="8.60" fill="#f6d98c" stroke="#4a4030" stroke-width="1.0" />
<rect x="20.40" y="338.70" width="164.89" height="8.60" fill="#f6d98c" stroke="#4a4030" stroke-width="1.0" />
<rect x="20.40" y="349.76" width="159.88" height="8.60" fill="#f6d98c" stroke="#4a4030" stroke-width="1.0" />
<rect x="20.40" y="360.82" width="159.88" height="8.60" fill="#f6d98c" stroke="#4a4030" stroke-width="1.0" />
<rect x="20.40" y="371.88" width="152.36" height="8.60" fill="#f6d98c" stroke="#4a4030" stroke-width="1.0" />
<rect x="20.40" y="382.94" width="150.86" height="8.60" fill="#f6d98c" stroke="#4a4030" stroke-width="1.0" />
<rect x="20.40" y="394.00" width="148.86" height="8.60" fill="#fdf7d4" stroke="#4a4030" stroke-width="1.0" />
<rect x="20.40" y="405.06" width="142.84" height="8.60" fill="#fdf7d4" stroke="#4a4030" stroke-width="1.0" />
<rect x="20.40" y="416.12" width="139.33" height="8.60" fill="#fdf7d4" stroke="#4a4030" stroke-width="1.0" />
<rect x="20.40" y="427.18" width="127.30" height="8.60" fill="#fdf7d4" stroke="#4a4030" stroke-width="1.0" />
<rect x="20.40" y="438.24" width="122.79" height="8.60" fill="#fdf7d4" stroke="#4a4030" stroke-width="1.0" />
<rect x="20.40" y="449.30" width="120.29" height="8.60" fill="#fdf7d4" stroke="#4a4030" stroke-width="1.0" />
<rect x="20.40" y="460.36" width="117.28" height="8.60" fill="#fdf7d4" stroke="#4a4030" stroke-width="1.0" />
<rect x="20.40" y="471.42" width="116.28" height="8.60" fill="#fdf7d4" stroke="#4a4030" stroke-width="1.0" />
<rect x="20.40" y="482.48" width="115.28" height="8.60" fill="#fdf7d4" stroke="#4a4030" stroke-width="1.0" />
<rect x="20.40" y="493.54" width="114.27" height="8.60" fill="#fdf7d4" stroke="#4a4030" stroke-width="1.0" />
<rect x="20.4" y="276.6" width="301.1" height="232.59999999999997" fill="none" stroke="#2a2a2a" stroke-width="1"/>
<line x1="20.4" y1="276.6" x2="20.4" y2="279.20000000000005" stroke="#2a2a2a" stroke-width="0.8" />
<line x1="20.4" y1="509.2" x2="20.4" y2="506.59999999999997" stroke="#2a2a2a" stroke-width="0.8" />
<text x="20.4" y="518.6" font-size="8.4" font-weight="normal" text-anchor="middle" fill="#222" >0</text>
<line x1="70.52" y1="276.6" x2="70.52" y2="279.20000000000005" stroke="#2a2a2a" stroke-width="0.8" />
<line x1="70.52" y1="509.2" x2="70.52" y2="506.59999999999997" stroke="#2a2a2a" stroke-width="0.8" />
<text x="70.52" y="518.6" font-size="8.4" font-weight="normal" text-anchor="middle" fill="#222" >1</text>
<line x1="120.63999999999999" y1="276.6" x2="120.63999999999999" y2="279.20000000000005" stroke="#2a2a2a" stroke-width="0.8" />
<line x1="120.63999999999999" y1="509.2" x2="120.63999999999999" y2="506.59999999999997" stroke="#2a2a2a" stroke-width="0.8" />
<text x="120.64" y="518.6" font-size="8.4" font-weight="normal" text-anchor="middle" fill="#222" >2</text>
<line x1="170.76" y1="276.6" x2="170.76" y2="279.20000000000005" stroke="#2a2a2a" stroke-width="0.8" />
<line x1="170.76" y1="509.2" x2="170.76" y2="506.59999999999997" stroke="#2a2a2a" stroke-width="0.8" />
<text x="170.76" y="518.6" font-size="8.4" font-weight="normal" text-anchor="middle" fill="#222" >3</text>
<line x1="220.88" y1="276.6" x2="220.88" y2="279.20000000000005" stroke="#2a2a2a" stroke-width="0.8" />
<line x1="220.88" y1="509.2" x2="220.88" y2="506.59999999999997" stroke="#2a2a2a" stroke-width="0.8" />
<text x="220.88" y="518.6" font-size="8.4" font-weight="normal" text-anchor="middle" fill="#222" >4</text>
<line x1="271.0" y1="276.6" x2="271.0" y2="279.20000000000005" stroke="#2a2a2a" stroke-width="0.8" />
<line x1="271.0" y1="509.2" x2="271.0" y2="506.59999999999997" stroke="#2a2a2a" stroke-width="0.8" />
<text x="271.0" y="518.6" font-size="8.4" font-weight="normal" text-anchor="middle" fill="#222" >5</text>
<line x1="321.11999999999995" y1="276.6" x2="321.11999999999995" y2="279.20000000000005" stroke="#2a2a2a" stroke-width="0.8" />
<line x1="321.11999999999995" y1="509.2" x2="321.11999999999995" y2="506.59999999999997" stroke="#2a2a2a" stroke-width="0.8" />
<text x="321.12" y="518.6" font-size="8.4" font-weight="normal" text-anchor="middle" fill="#222" >6</text>
<text x="153.4" y="529.0" font-size="8.2" font-weight="normal" text-anchor="start" textLength="36.7" lengthAdjust="spacingAndGlyphs" fill="#222" >-log10(P)</text>
<text x="324.9" y="290.7" font-size="8.5" font-weight="normal" text-anchor="start" textLength="131.9" lengthAdjust="spacingAndGlyphs" fill="#111" stroke="#111" stroke-width="0.22">M2772: ESC V6.5 UP LATE.V1 UP</text>
<text x="324.9" y="301.76" font-size="8.5" font-weight="normal" text-anchor="start" textLength="90.1" lengthAdjust="spacingAndGlyphs" fill="#111" stroke="#111" stroke-width="0.22">M2725: MEK UP.V1 UP</text>
<text x="324.9" y="312.82" font-size="8.5" font-weight="normal" text-anchor="start" textLength="180.9" lengthAdjust="spacingAndGlyphs" fill="#111" stroke="#111" stroke-width="0.22">GO:0055123: digestive system development</text>
<text x="324.9" y="323.88" font-size="8.5" font-weight="normal" text-anchor="start" textLength="189.2" lengthAdjust="spacingAndGlyphs" fill="#111" stroke="#111" stroke-width="0.22">GO:0030198: extracellular matrix organization</text>
<text x="324.9" y="334.94" font-size="8.5" font-weight="normal" text-anchor="start" textLength="237.8" lengthAdjust="spacingAndGlyphs" fill="#111" stroke="#111" stroke-width="0.22">GO:1903035: negative regulation of response to wounding</text>
<text x="324.9" y="346.0" font-size="8.5" font-weight="normal" text-anchor="start" textLength="110.6" lengthAdjust="spacingAndGlyphs" fill="#111" stroke="#111" stroke-width="0.22">R-HSA-109582: Hemostasis</text>
<text x="324.9" y="357.06" font-size="8.5" font-weight="normal" text-anchor="start" textLength="99.4" lengthAdjust="spacingAndGlyphs" fill="#111" stroke="#111" stroke-width="0.22">M2816: RPS14 DN.V1 UP</text>
<text x="324.9" y="368.12" font-size="8.5" font-weight="normal" text-anchor="start" textLength="100.5" lengthAdjust="spacingAndGlyphs" fill="#111" stroke="#111" stroke-width="0.22">M2682: ATF2 S UP.V1 UP</text>
<text x="324.9" y="379.18" font-size="8.5" font-weight="normal" text-anchor="start" textLength="171.6" lengthAdjust="spacingAndGlyphs" fill="#111" stroke="#111" stroke-width="0.22">GO:0030170: pyridoxal phosphate binding</text>
<text x="324.9" y="390.24" font-size="8.5" font-weight="normal" text-anchor="start" textLength="245.3" lengthAdjust="spacingAndGlyphs" fill="#111" stroke="#111" stroke-width="0.22">GO:0072523: purine-containing compound catabolic process</text>
<text x="324.9" y="401.3" font-size="8.5" font-weight="normal" text-anchor="start" textLength="211.6" lengthAdjust="spacingAndGlyphs" fill="#111" stroke="#111" stroke-width="0.22">GO:0043687: post-translational protein modification</text>
<text x="324.9" y="412.36" font-size="8.5" font-weight="normal" text-anchor="start" textLength="286.4" lengthAdjust="spacingAndGlyphs" fill="#111" stroke="#111" stroke-width="0.22">GO:0004714: transmembrane receptor protein tyrosine kinase activity</text>
<text x="324.9" y="423.42" font-size="8.5" font-weight="normal" text-anchor="start" textLength="132.3" lengthAdjust="spacingAndGlyphs" fill="#111" stroke="#111" stroke-width="0.22">M3468: NABA ECM REGULATORS</text>
<text x="324.9" y="434.48" font-size="8.5" font-weight="normal" text-anchor="start" textLength="181.7" lengthAdjust="spacingAndGlyphs" fill="#111" stroke="#111" stroke-width="0.22">GO:0006665: sphingolipid metabolic process</text>
<text x="324.9" y="445.54" font-size="8.5" font-weight="normal" text-anchor="start" textLength="305.1" lengthAdjust="spacingAndGlyphs" fill="#111" stroke="#111" stroke-width="0.22">GO:0032414: positive regulation of ion transmembrane transporter activity</text>
<text x="324.9" y="456.6" font-size="8.5" font-weight="normal" text-anchor="start" textLength="173.1" lengthAdjust="spacingAndGlyphs" fill="#111" stroke="#111" stroke-width="0.22">GO:0007389: pattern specification process</text>
<text x="324.9" y="467.66" font-size="8.5" font-weight="normal" text-anchor="start" textLength="90.8" lengthAdjust="spacingAndGlyphs" fill="#111" stroke="#111" stroke-width="0.22">M2824: IL21 UP.V1 DN</text>
<text x="324.9" y="478.72" font-size="8.5" font-weight="normal" text-anchor="start" textLength="91.9" lengthAdjust="spacingAndGlyphs" fill="#111" stroke="#111" stroke-width="0.22">M2723: LTE2 UP.V1 UP</text>
<text x="324.9" y="489.78" font-size="8.5" font-weight="normal" text-anchor="start" textLength="216.5" lengthAdjust="spacingAndGlyphs" fill="#111" stroke="#111" stroke-width="0.22">GO:0051345: positive regulation of hydrolase activity</text>
<text x="324.9" y="500.84" font-size="8.5" font-weight="normal" text-anchor="start" textLength="87.1" lengthAdjust="spacingAndGlyphs" fill="#111" stroke="#111" stroke-width="0.22">M2728: RAF UP.V1 UP</text>
<path d="M516,430.5 L516.00,427.20 M516,430.5 L519.14,429.48 M516,430.5 L517.94,433.17 M516,430.5 L514.06,433.17 M516,430.5 L512.86,429.48 " stroke="#111" stroke-width="2.1" stroke-linecap="round" fill="none"/>
<text x="9.0" y="568.7" font-size="13.2" font-weight="bold" text-anchor="start" textLength="9.2" lengthAdjust="spacingAndGlyphs" fill="#111"  stroke="#111" stroke-width="0.3">D</text>
<rect x="42.4" y="574.2" width="168.79999999999998" height="161.5999999999999" fill="none" stroke="#8a8a8a" stroke-width="1.1"/>
<line x1="45.8" y1="735.8" x2="45.8" y2="738.5999999999999" stroke="#8a8a8a" stroke-width="0.9" />
<text x="45.8" y="749.0" font-size="6" font-weight="normal" text-anchor="middle" fill="#444" >0</text>
<line x1="79.5" y1="735.8" x2="79.5" y2="738.5999999999999" stroke="#8a8a8a" stroke-width="0.9" />
<text x="79.5" y="749.0" font-size="6" font-weight="normal" text-anchor="middle" fill="#444" >1</text>
<line x1="113.2" y1="735.8" x2="113.2" y2="738.5999999999999" stroke="#8a8a8a" stroke-width="0.9" />
<text x="113.2" y="749.0" font-size="6" font-weight="normal" text-anchor="middle" fill="#444" >2</text>
<line x1="146.9" y1="735.8" x2="146.9" y2="738.5999999999999" stroke="#8a8a8a" stroke-width="0.9" />
<text x="146.9" y="749.0" font-size="6" font-weight="normal" text-anchor="middle" fill="#444" >3</text>
<line x1="180.60000000000002" y1="735.8" x2="180.60000000000002" y2="738.5999999999999" stroke="#8a8a8a" stroke-width="0.9" />
<text x="180.6" y="749.0" font-size="6" font-weight="normal" text-anchor="middle" fill="#444" >4</text>
<line x1="42.4" y1="731.6" x2="39.199999999999996" y2="731.6" stroke="#8a8a8a" stroke-width="0.9" />
<text transform="translate(34.6,731.60) rotate(-90)" font-size="6" text-anchor="middle" fill="#444">0</text>
<line x1="42.4" y1="691.7" x2="39.199999999999996" y2="691.7" stroke="#8a8a8a" stroke-width="0.9" />
<text transform="translate(34.6,691.70) rotate(-90)" font-size="6" text-anchor="middle" fill="#444">2</text>
<line x1="42.4" y1="651.8000000000001" x2="39.199999999999996" y2="651.8000000000001" stroke="#8a8a8a" stroke-width="0.9" />
<text transform="translate(34.6,651.80) rotate(-90)" font-size="6" text-anchor="middle" fill="#444">4</text>
<line x1="42.4" y1="611.9000000000001" x2="39.199999999999996" y2="611.9000000000001" stroke="#8a8a8a" stroke-width="0.9" />
<text transform="translate(34.6,611.90) rotate(-90)" font-size="6" text-anchor="middle" fill="#444">6</text>
<text x="52.7" y="585.8" font-size="7.4" font-weight="normal" text-anchor="start" textLength="67.6" lengthAdjust="spacingAndGlyphs" fill="#333" >p–value = 2.9e–13</text>
<text x="52.7" y="595.4" font-size="7.4" font-weight="normal" text-anchor="start" textLength="30.3" lengthAdjust="spacingAndGlyphs" fill="#333" >R = 0.37</text>
<text transform="translate(23.2,703.2) rotate(-90)" font-size="11.2" font-weight="bold" textLength="97.5" lengthAdjust="spacingAndGlyphs" fill="#111" stroke="#111" stroke-width="0.3"><tspan font-style="italic">SPHK1</tspan> expression</text>
<text x="77.8" y="763.6" font-size="11.2" font-weight="bold" textLength="97" lengthAdjust="spacingAndGlyphs" fill="#111" stroke="#111" stroke-width="0.3"><tspan font-style="italic">HJURP</tspan> expression</text>
<circle cx="125.2" cy="583.7" r="1.05" fill="#111"/>
<circle cx="118.9" cy="585.5" r="1.05" fill="#111"/>
<circle cx="103.4" cy="601.3" r="1.05" fill="#111"/>
<circle cx="105.5" cy="604.5" r="1.05" fill="#111"/>
<circle cx="65.6" cy="609.2" r="1.05" fill="#111"/>
<circle cx="91.8" cy="607.7" r="1.05" fill="#111"/>
<circle cx="116.1" cy="609.9" r="1.05" fill="#111"/>
<circle cx="123.8" cy="614.8" r="1.05" fill="#111"/>
<circle cx="116.8" cy="616.5" r="1.05" fill="#111"/>
<circle cx="113.9" cy="619.3" r="1.05" fill="#111"/>
<circle cx="129.4" cy="623.2" r="1.05" fill="#111"/>
<circle cx="110.1" cy="625.6" r="1.05" fill="#111"/>
<circle cx="83.2" cy="627.7" r="1.05" fill="#111"/>
<circle cx="103.7" cy="631.7" r="1.05" fill="#111"/>
<circle cx="116.1" cy="631.7" r="1.05" fill="#111"/>
<circle cx="86.5" cy="637.3" r="1.05" fill="#111"/>
<circle cx="95.6" cy="636.5" r="1.05" fill="#111"/>
<circle cx="87.9" cy="640.4" r="1.05" fill="#111"/>
<circle cx="95.6" cy="642.1" r="1.05" fill="#111"/>
<circle cx="104.5" cy="641.5" r="1.05" fill="#111"/>
<circle cx="107.3" cy="640.4" r="1.05" fill="#111"/>
<circle cx="113.9" cy="639.7" r="1.05" fill="#111"/>
<circle cx="118.2" cy="644.6" r="1.05" fill="#111"/>
<circle cx="128.7" cy="635.9" r="1.05" fill="#111"/>
<circle cx="128.0" cy="638.3" r="1.05" fill="#111"/>
<circle cx="128.7" cy="643.9" r="1.05" fill="#111"/>
<circle cx="73.8" cy="643.5" r="1.05" fill="#111"/>
<circle cx="103.4" cy="652.4" r="1.05" fill="#111"/>
<circle cx="108.7" cy="653.1" r="1.05" fill="#111"/>
<circle cx="117.5" cy="655.0" r="1.05" fill="#111"/>
<circle cx="123.1" cy="651.0" r="1.05" fill="#111"/>
<circle cx="138.4" cy="580.1" r="1.05" fill="#111"/>
<circle cx="161.9" cy="585.1" r="1.05" fill="#111"/>
<circle cx="164.0" cy="596.1" r="1.05" fill="#111"/>
<circle cx="175.4" cy="594.2" r="1.05" fill="#111"/>
<circle cx="171.2" cy="598.2" r="1.05" fill="#111"/>
<circle cx="171.5" cy="600.7" r="1.05" fill="#111"/>
<circle cx="131.3" cy="599.9" r="1.05" fill="#111"/>
<circle cx="133.5" cy="599.9" r="1.05" fill="#111"/>
<circle cx="159.9" cy="601.7" r="1.05" fill="#111"/>
<circle cx="145.0" cy="604.1" r="1.05" fill="#111"/>
<circle cx="157.7" cy="606.3" r="1.05" fill="#111"/>
<circle cx="161.2" cy="607.5" r="1.05" fill="#111"/>
<circle cx="148.9" cy="609.7" r="1.05" fill="#111"/>
<circle cx="188.0" cy="609.4" r="1.05" fill="#111"/>
<circle cx="199.9" cy="610.0" r="1.05" fill="#111"/>
<circle cx="205.0" cy="613.9" r="1.05" fill="#111"/>
<circle cx="174.6" cy="614.8" r="1.05" fill="#111"/>
<circle cx="137.4" cy="614.8" r="1.05" fill="#111"/>
<circle cx="137.4" cy="617.9" r="1.05" fill="#111"/>
<circle cx="151.5" cy="615.4" r="1.05" fill="#111"/>
<circle cx="157.7" cy="616.9" r="1.05" fill="#111"/>
<circle cx="151.8" cy="619.6" r="1.05" fill="#111"/>
<circle cx="156.7" cy="620.4" r="1.05" fill="#111"/>
<circle cx="140.1" cy="622.8" r="1.05" fill="#111"/>
<circle cx="131.8" cy="628.2" r="1.05" fill="#111"/>
<circle cx="136.3" cy="627.5" r="1.05" fill="#111"/>
<circle cx="140.2" cy="627.0" r="1.05" fill="#111"/>
<circle cx="142.2" cy="626.1" r="1.05" fill="#111"/>
<circle cx="150.4" cy="628.0" r="1.05" fill="#111"/>
<circle cx="188.0" cy="627.5" r="1.05" fill="#111"/>
<circle cx="195.8" cy="626.3" r="1.05" fill="#111"/>
<circle cx="136.0" cy="631.7" r="1.05" fill="#111"/>
<circle cx="136.7" cy="638.6" r="1.05" fill="#111"/>
<circle cx="154.3" cy="636.9" r="1.05" fill="#111"/>
<circle cx="144.0" cy="639.3" r="1.05" fill="#111"/>
<circle cx="143.7" cy="642.5" r="1.05" fill="#111"/>
<circle cx="197.5" cy="642.5" r="1.05" fill="#111"/>
<circle cx="183.9" cy="647.2" r="1.05" fill="#111"/>
<circle cx="150.4" cy="648.6" r="1.05" fill="#111"/>
<circle cx="153.9" cy="647.2" r="1.05" fill="#111"/>
<circle cx="156.7" cy="646.3" r="1.05" fill="#111"/>
<circle cx="134.9" cy="652.4" r="1.05" fill="#111"/>
<circle cx="140.2" cy="652.8" r="1.05" fill="#111"/>
<circle cx="153.2" cy="653.1" r="1.05" fill="#111"/>
<circle cx="117.5" cy="652.5" r="1.05" fill="#111"/>
<circle cx="125.2" cy="657.0" r="1.05" fill="#111"/>
<circle cx="128.7" cy="658.7" r="1.05" fill="#111"/>
<circle cx="65.1" cy="657.3" r="1.05" fill="#111"/>
<circle cx="110.4" cy="656.8" r="1.05" fill="#111"/>
<circle cx="48.7" cy="662.7" r="1.05" fill="#111"/>
<circle cx="92.4" cy="661.3" r="1.05" fill="#111"/>
<circle cx="112.5" cy="662.0" r="1.05" fill="#111"/>
<circle cx="84.8" cy="664.5" r="1.05" fill="#111"/>
<circle cx="95.6" cy="665.5" r="1.05" fill="#111"/>
<circle cx="89.3" cy="667.6" r="1.05" fill="#111"/>
<circle cx="85.1" cy="668.3" r="1.05" fill="#111"/>
<circle cx="102.7" cy="667.6" r="1.05" fill="#111"/>
<circle cx="106.2" cy="668.0" r="1.05" fill="#111"/>
<circle cx="109.0" cy="668.0" r="1.05" fill="#111"/>
<circle cx="116.1" cy="666.9" r="1.05" fill="#111"/>
<circle cx="124.5" cy="666.2" r="1.05" fill="#111"/>
<circle cx="128.7" cy="668.0" r="1.05" fill="#111"/>
<circle cx="72.7" cy="670.8" r="1.05" fill="#111"/>
<circle cx="77.7" cy="671.8" r="1.05" fill="#111"/>
<circle cx="80.8" cy="669.7" r="1.05" fill="#111"/>
<circle cx="85.8" cy="672.5" r="1.05" fill="#111"/>
<circle cx="87.9" cy="672.5" r="1.05" fill="#111"/>
<circle cx="59.7" cy="672.5" r="1.05" fill="#111"/>
<circle cx="104.1" cy="672.5" r="1.05" fill="#111"/>
<circle cx="118.2" cy="672.5" r="1.05" fill="#111"/>
<circle cx="125.9" cy="671.1" r="1.05" fill="#111"/>
<circle cx="128.0" cy="673.7" r="1.05" fill="#111"/>
<circle cx="123.1" cy="673.9" r="1.05" fill="#111"/>
<circle cx="50.6" cy="675.1" r="1.05" fill="#111"/>
<circle cx="72.7" cy="673.9" r="1.05" fill="#111"/>
<circle cx="94.2" cy="676.5" r="1.05" fill="#111"/>
<circle cx="121.7" cy="676.8" r="1.05" fill="#111"/>
<circle cx="124.5" cy="679.6" r="1.05" fill="#111"/>
<circle cx="63.7" cy="681.7" r="1.05" fill="#111"/>
<circle cx="61.1" cy="682.7" r="1.05" fill="#111"/>
<circle cx="80.1" cy="679.9" r="1.05" fill="#111"/>
<circle cx="102.0" cy="680.7" r="1.05" fill="#111"/>
<circle cx="87.9" cy="683.5" r="1.05" fill="#111"/>
<circle cx="76.6" cy="684.5" r="1.05" fill="#111"/>
<circle cx="117.5" cy="681.0" r="1.05" fill="#111"/>
<circle cx="121.7" cy="683.1" r="1.05" fill="#111"/>
<circle cx="116.8" cy="683.8" r="1.05" fill="#111"/>
<circle cx="124.5" cy="685.9" r="1.05" fill="#111"/>
<circle cx="64.2" cy="687.3" r="1.05" fill="#111"/>
<circle cx="53.4" cy="692.5" r="1.05" fill="#111"/>
<circle cx="58.3" cy="690.8" r="1.05" fill="#111"/>
<circle cx="58.3" cy="694.4" r="1.05" fill="#111"/>
<circle cx="63.9" cy="692.3" r="1.05" fill="#111"/>
<circle cx="71.0" cy="690.1" r="1.05" fill="#111"/>
<circle cx="76.6" cy="690.8" r="1.05" fill="#111"/>
<circle cx="78.7" cy="691.1" r="1.05" fill="#111"/>
<circle cx="85.1" cy="692.3" r="1.05" fill="#111"/>
<circle cx="88.6" cy="691.5" r="1.05" fill="#111"/>
<circle cx="96.3" cy="684.5" r="1.05" fill="#111"/>
<circle cx="97.7" cy="688.7" r="1.05" fill="#111"/>
<circle cx="124.5" cy="688.0" r="1.05" fill="#111"/>
<circle cx="121.0" cy="690.1" r="1.05" fill="#111"/>
<circle cx="66.8" cy="693.7" r="1.05" fill="#111"/>
<circle cx="93.5" cy="693.7" r="1.05" fill="#111"/>
<circle cx="82.3" cy="697.9" r="1.05" fill="#111"/>
<circle cx="89.3" cy="698.6" r="1.05" fill="#111"/>
<circle cx="85.1" cy="699.6" r="1.05" fill="#111"/>
<circle cx="98.5" cy="695.8" r="1.05" fill="#111"/>
<circle cx="100.6" cy="697.9" r="1.05" fill="#111"/>
<circle cx="111.8" cy="696.5" r="1.05" fill="#111"/>
<circle cx="115.4" cy="697.2" r="1.05" fill="#111"/>
<circle cx="113.9" cy="699.3" r="1.05" fill="#111"/>
<circle cx="118.2" cy="694.8" r="1.05" fill="#111"/>
<circle cx="63.9" cy="698.6" r="1.05" fill="#111"/>
<circle cx="58.3" cy="701.4" r="1.05" fill="#111"/>
<circle cx="65.4" cy="703.5" r="1.05" fill="#111"/>
<circle cx="72.4" cy="704.2" r="1.05" fill="#111"/>
<circle cx="76.6" cy="702.1" r="1.05" fill="#111"/>
<circle cx="80.8" cy="701.4" r="1.05" fill="#111"/>
<circle cx="93.5" cy="702.8" r="1.05" fill="#111"/>
<circle cx="96.3" cy="704.2" r="1.05" fill="#111"/>
<circle cx="99.2" cy="702.1" r="1.05" fill="#111"/>
<circle cx="102.0" cy="701.4" r="1.05" fill="#111"/>
<circle cx="109.0" cy="702.1" r="1.05" fill="#111"/>
<circle cx="113.9" cy="703.5" r="1.05" fill="#111"/>
<circle cx="117.5" cy="704.2" r="1.05" fill="#111"/>
<circle cx="121.0" cy="702.1" r="1.05" fill="#111"/>
<circle cx="128.0" cy="703.5" r="1.05" fill="#111"/>
<circle cx="73.1" cy="707.0" r="1.05" fill="#111"/>
<circle cx="94.9" cy="706.3" r="1.05" fill="#111"/>
<circle cx="49.9" cy="707.7" r="1.05" fill="#111"/>
<circle cx="54.1" cy="706.3" r="1.05" fill="#111"/>
<circle cx="56.9" cy="708.5" r="1.05" fill="#111"/>
<circle cx="61.1" cy="707.0" r="1.05" fill="#111"/>
<circle cx="65.4" cy="707.7" r="1.05" fill="#111"/>
<circle cx="71.7" cy="709.2" r="1.05" fill="#111"/>
<circle cx="75.2" cy="710.8" r="1.05" fill="#111"/>
<circle cx="72.4" cy="711.3" r="1.05" fill="#111"/>
<circle cx="80.8" cy="709.9" r="1.05" fill="#111"/>
<circle cx="82.3" cy="707.7" r="1.05" fill="#111"/>
<circle cx="85.8" cy="709.9" r="1.05" fill="#111"/>
<circle cx="88.6" cy="710.6" r="1.05" fill="#111"/>
<circle cx="91.4" cy="707.7" r="1.05" fill="#111"/>
<circle cx="99.2" cy="708.5" r="1.05" fill="#111"/>
<circle cx="102.0" cy="708.9" r="1.05" fill="#111"/>
<circle cx="109.0" cy="707.0" r="1.05" fill="#111"/>
<circle cx="124.5" cy="707.7" r="1.05" fill="#111"/>
<circle cx="104.8" cy="712.7" r="1.05" fill="#111"/>
<circle cx="107.6" cy="714.1" r="1.05" fill="#111"/>
<circle cx="78.0" cy="713.4" r="1.05" fill="#111"/>
<circle cx="73.8" cy="712.7" r="1.05" fill="#111"/>
<circle cx="63.9" cy="712.7" r="1.05" fill="#111"/>
<circle cx="58.3" cy="712.0" r="1.05" fill="#111"/>
<circle cx="54.1" cy="712.7" r="1.05" fill="#111"/>
<circle cx="49.9" cy="715.5" r="1.05" fill="#111"/>
<circle cx="53.4" cy="716.9" r="1.05" fill="#111"/>
<circle cx="56.2" cy="716.2" r="1.05" fill="#111"/>
<circle cx="61.1" cy="715.5" r="1.05" fill="#111"/>
<circle cx="65.4" cy="716.2" r="1.05" fill="#111"/>
<circle cx="70.3" cy="715.5" r="1.05" fill="#111"/>
<circle cx="73.8" cy="714.8" r="1.05" fill="#111"/>
<circle cx="80.1" cy="716.2" r="1.05" fill="#111"/>
<circle cx="82.3" cy="714.8" r="1.05" fill="#111"/>
<circle cx="86.5" cy="716.9" r="1.05" fill="#111"/>
<circle cx="88.6" cy="714.8" r="1.05" fill="#111"/>
<circle cx="90.7" cy="715.5" r="1.05" fill="#111"/>
<circle cx="93.5" cy="716.2" r="1.05" fill="#111"/>
<circle cx="95.6" cy="714.8" r="1.05" fill="#111"/>
<circle cx="99.2" cy="719.0" r="1.05" fill="#111"/>
<circle cx="102.0" cy="717.6" r="1.05" fill="#111"/>
<circle cx="107.6" cy="717.6" r="1.05" fill="#111"/>
<circle cx="112.5" cy="716.2" r="1.05" fill="#111"/>
<circle cx="116.1" cy="716.2" r="1.05" fill="#111"/>
<circle cx="121.0" cy="716.2" r="1.05" fill="#111"/>
<circle cx="124.5" cy="714.1" r="1.05" fill="#111"/>
<circle cx="128.7" cy="720.4" r="1.05" fill="#111"/>
<circle cx="51.3" cy="720.1" r="1.05" fill="#111"/>
<circle cx="62.5" cy="718.3" r="1.05" fill="#111"/>
<circle cx="68.2" cy="719.0" r="1.05" fill="#111"/>
<circle cx="72.4" cy="719.0" r="1.05" fill="#111"/>
<circle cx="77.3" cy="719.0" r="1.05" fill="#111"/>
<circle cx="83.7" cy="719.0" r="1.05" fill="#111"/>
<circle cx="90.7" cy="719.0" r="1.05" fill="#111"/>
<circle cx="96.3" cy="719.0" r="1.05" fill="#111"/>
<circle cx="100.6" cy="721.1" r="1.05" fill="#111"/>
<circle cx="111.8" cy="719.7" r="1.05" fill="#111"/>
<circle cx="54.1" cy="723.2" r="1.05" fill="#111"/>
<circle cx="58.3" cy="722.5" r="1.05" fill="#111"/>
<circle cx="61.1" cy="723.9" r="1.05" fill="#111"/>
<circle cx="64.6" cy="723.2" r="1.05" fill="#111"/>
<circle cx="69.6" cy="723.9" r="1.05" fill="#111"/>
<circle cx="73.1" cy="722.5" r="1.05" fill="#111"/>
<circle cx="78.0" cy="721.8" r="1.05" fill="#111"/>
<circle cx="80.1" cy="723.2" r="1.05" fill="#111"/>
<circle cx="86.5" cy="724.6" r="1.05" fill="#111"/>
<circle cx="92.1" cy="721.8" r="1.05" fill="#111"/>
<circle cx="97.7" cy="723.2" r="1.05" fill="#111"/>
<circle cx="102.7" cy="721.1" r="1.05" fill="#111"/>
<circle cx="106.2" cy="723.2" r="1.05" fill="#111"/>
<circle cx="109.0" cy="723.2" r="1.05" fill="#111"/>
<circle cx="113.2" cy="722.5" r="1.05" fill="#111"/>
<circle cx="118.9" cy="725.4" r="1.05" fill="#111"/>
<circle cx="123.1" cy="724.6" r="1.05" fill="#111"/>
<circle cx="55.5" cy="726.8" r="1.05" fill="#111"/>
<circle cx="61.1" cy="727.5" r="1.05" fill="#111"/>
<circle cx="67.5" cy="726.8" r="1.05" fill="#111"/>
<circle cx="70.3" cy="728.2" r="1.05" fill="#111"/>
<circle cx="87.9" cy="726.8" r="1.05" fill="#111"/>
<circle cx="95.6" cy="727.5" r="1.05" fill="#111"/>
<circle cx="106.9" cy="726.8" r="1.05" fill="#111"/>
<circle cx="68.2" cy="728.9" r="1.05" fill="#111"/>
<circle cx="102.0" cy="728.6" r="1.05" fill="#111"/>
<circle cx="109.7" cy="728.9" r="1.05" fill="#111"/>
<circle cx="136.0" cy="655.6" r="1.05" fill="#111"/>
<circle cx="130.6" cy="658.7" r="1.05" fill="#111"/>
<circle cx="133.2" cy="660.1" r="1.05" fill="#111"/>
<circle cx="179.9" cy="657.0" r="1.05" fill="#111"/>
<circle cx="177.4" cy="663.8" r="1.05" fill="#111"/>
<circle cx="150.6" cy="663.7" r="1.05" fill="#111"/>
<circle cx="200.4" cy="668.7" r="1.05" fill="#111"/>
<circle cx="133.5" cy="671.1" r="1.05" fill="#111"/>
<circle cx="132.0" cy="673.9" r="1.05" fill="#111"/>
<circle cx="144.0" cy="676.8" r="1.05" fill="#111"/>
<circle cx="149.2" cy="674.2" r="1.05" fill="#111"/>
<circle cx="187.3" cy="678.2" r="1.05" fill="#111"/>
<circle cx="129.9" cy="681.7" r="1.05" fill="#111"/>
<circle cx="138.0" cy="681.7" r="1.05" fill="#111"/>
<circle cx="156.0" cy="682.1" r="1.05" fill="#111"/>
<circle cx="136.3" cy="685.2" r="1.05" fill="#111"/>
<circle cx="149.6" cy="685.9" r="1.05" fill="#111"/>
<circle cx="153.9" cy="686.9" r="1.05" fill="#111"/>
<circle cx="148.2" cy="689.2" r="1.05" fill="#111"/>
<circle cx="132.3" cy="690.1" r="1.05" fill="#111"/>
<circle cx="135.6" cy="691.1" r="1.05" fill="#111"/>
<circle cx="145.8" cy="695.8" r="1.05" fill="#111"/>
<circle cx="135.1" cy="698.2" r="1.05" fill="#111"/>
<circle cx="152.9" cy="698.2" r="1.05" fill="#111"/>
<circle cx="148.7" cy="700.0" r="1.05" fill="#111"/>
<circle cx="151.1" cy="701.8" r="1.05" fill="#111"/>
<circle cx="139.8" cy="705.6" r="1.05" fill="#111"/>
<circle cx="137.0" cy="708.5" r="1.05" fill="#111"/>
<circle cx="169.4" cy="708.5" r="1.05" fill="#111"/>
<circle cx="141.9" cy="710.3" r="1.05" fill="#111"/>
<circle cx="143.6" cy="711.3" r="1.05" fill="#111"/>
<circle cx="173.6" cy="714.1" r="1.05" fill="#111"/>
<circle cx="178.5" cy="715.5" r="1.05" fill="#111"/>
<circle cx="163.7" cy="716.9" r="1.05" fill="#111"/>
<circle cx="132.7" cy="716.2" r="1.05" fill="#111"/>
<circle cx="129.9" cy="723.0" r="1.05" fill="#111"/>
<circle cx="135.1" cy="723.5" r="1.05" fill="#111"/>
<circle cx="153.2" cy="723.0" r="1.05" fill="#111"/>
<circle cx="156.3" cy="722.1" r="1.05" fill="#111"/>
<circle cx="181.1" cy="721.8" r="1.05" fill="#111"/>
<circle cx="185.8" cy="722.8" r="1.05" fill="#111"/>
<circle cx="138.4" cy="726.3" r="1.05" fill="#111"/>
<circle cx="173.6" cy="730.0" r="1.05" fill="#111"/>
<text x="234.0" y="567.4" font-size="13.2" font-weight="bold" text-anchor="start" textLength="8.1" lengthAdjust="spacingAndGlyphs" fill="#111"  stroke="#111" stroke-width="0.3">E</text>
<text x="319.5" y="566.4" font-size="10.6" font-weight="bold" text-anchor="start" textLength="47.6" lengthAdjust="spacingAndGlyphs" fill="#111"  stroke="#111" stroke-width="0.3">HCC-LM3</text>
<line x1="274.0" y1="571.6" x2="409.5" y2="571.6" stroke="#111" stroke-width="1.3" />
<text x="273.2" y="583.6" font-size="10.6" font-weight="bold" text-anchor="start" textLength="21.9" lengthAdjust="spacingAndGlyphs" fill="#111"  stroke="#111" stroke-width="0.3">NTC</text>
<text x="312.6" y="583.6" font-size="10.6" font-weight="bold" text-anchor="start" textLength="15.4" lengthAdjust="spacingAndGlyphs" fill="#111"  stroke="#111" stroke-width="0.3">KD</text>
<text x="347.5" y="583.6" font-size="10.6" font-weight="bold" text-anchor="start" textLength="33.7" lengthAdjust="spacingAndGlyphs" fill="#111"  stroke="#111" stroke-width="0.3">Vector</text>
<text x="391.5" y="583.6" font-size="10.6" font-weight="bold" text-anchor="start" textLength="13.5" lengthAdjust="spacingAndGlyphs" fill="#111"  stroke="#111" stroke-width="0.3">OE</text>
<text x="329.5" y="680.6" font-size="10.6" font-weight="bold" text-anchor="start" textLength="25.1" lengthAdjust="spacingAndGlyphs" fill="#111"  stroke="#111" stroke-width="0.3">Huh7</text>
<line x1="274.0" y1="684.7" x2="409.5" y2="684.7" stroke="#111" stroke-width="1.3" />
<text x="273.2" y="700.0" font-size="10.6" font-weight="bold" text-anchor="start" textLength="21.9" lengthAdjust="spacingAndGlyphs" fill="#111"  stroke="#111" stroke-width="0.3">NTC</text>
<text x="312.6" y="700.0" font-size="10.6" font-weight="bold" text-anchor="start" textLength="15.4" lengthAdjust="spacingAndGlyphs" fill="#111"  stroke="#111" stroke-width="0.3">KD</text>
<text x="347.5" y="700.0" font-size="10.6" font-weight="bold" text-anchor="start" textLength="33.7" lengthAdjust="spacingAndGlyphs" fill="#111"  stroke="#111" stroke-width="0.3">Vector</text>
<text x="391.5" y="700.0" font-size="10.6" font-weight="bold" text-anchor="start" textLength="13.5" lengthAdjust="spacingAndGlyphs" fill="#111"  stroke="#111" stroke-width="0.3">OE</text>
<rect x="267.0" y="588.2" width="72.30" height="21.30" fill="#eeeeee" stroke="#111" stroke-width="1.6" rx="0.8"/>
<rect x="344.7" y="588.2" width="72.60" height="21.30" fill="#eeeeee" stroke="#111" stroke-width="1.6" rx="0.8"/>
<text x="225.0" y="602.45" font-size="10.8" font-weight="bold" text-anchor="start" textLength="37.0" lengthAdjust="spacingAndGlyphs" fill="#111"  stroke="#111" stroke-width="0.3">HJURP</text>
<rect x="267.0" y="613.5" width="72.30" height="21.00" fill="#eeeeee" stroke="#111" stroke-width="1.6" rx="0.8"/>
<rect x="344.7" y="613.5" width="72.60" height="21.00" fill="#eeeeee" stroke="#111" stroke-width="1.6" rx="0.8"/>
<text x="225.0" y="627.6" font-size="10.8" font-weight="bold" text-anchor="start" textLength="37.0" lengthAdjust="spacingAndGlyphs" fill="#111"  stroke="#111" stroke-width="0.3">SPHK1</text>
<rect x="267.0" y="639.8" width="72.30" height="21.30" fill="#eeeeee" stroke="#111" stroke-width="1.6" rx="0.8"/>
<rect x="344.7" y="639.8" width="72.60" height="21.30" fill="#eeeeee" stroke="#111" stroke-width="1.6" rx="0.8"/>
<text x="225.0" y="654.05" font-size="10.8" font-weight="bold" text-anchor="start" textLength="37.0" lengthAdjust="spacingAndGlyphs" fill="#111"  stroke="#111" stroke-width="0.3">β-actin</text>
<rect x="267.0" y="702.6" width="72.30" height="21.90" fill="#eeeeee" stroke="#111" stroke-width="1.6" rx="0.8"/>
<rect x="344.7" y="702.6" width="72.60" height="21.90" fill="#eeeeee" stroke="#111" stroke-width="1.6" rx="0.8"/>
<text x="225.0" y="717.15" font-size="10.8" font-weight="bold" text-anchor="start" textLength="37.0" lengthAdjust="spacingAndGlyphs" fill="#111"  stroke="#111" stroke-width="0.3">HJURP</text>
<rect x="267.0" y="727.6" width="72.30" height="22.50" fill="#eeeeee" stroke="#111" stroke-width="1.6" rx="0.8"/>
<rect x="344.7" y="727.6" width="72.60" height="22.50" fill="#eeeeee" stroke="#111" stroke-width="1.6" rx="0.8"/>
<text x="225.0" y="742.45" font-size="10.8" font-weight="bold" text-anchor="start" textLength="37.0" lengthAdjust="spacingAndGlyphs" fill="#111"  stroke="#111" stroke-width="0.3">SPHK1</text>
<rect x="267.0" y="752.6" width="72.30" height="21.90" fill="#eeeeee" stroke="#111" stroke-width="1.6" rx="0.8"/>
<rect x="344.7" y="752.6" width="72.60" height="21.90" fill="#eeeeee" stroke="#111" stroke-width="1.6" rx="0.8"/>
<text x="225.0" y="767.15" font-size="10.8" font-weight="bold" text-anchor="start" textLength="37.0" lengthAdjust="spacingAndGlyphs" fill="#111"  stroke="#111" stroke-width="0.3">β-actin</text>
<rect x="270" y="592.50" width="30.00" height="12" rx="4.00" fill="#d0d0d0" opacity="0.6" filter="url(#blr2)"/>
<rect x="273" y="595.90" width="17.00" height="4.6" rx="2.30" fill="#101010" opacity="1.0" filter="url(#blr)"/>
<rect x="286" y="596.10" width="12.00" height="3.8" rx="1.90" fill="#555" opacity="1.0" filter="url(#blr)"/>
<rect x="305" y="596.50" width="30.00" height="5" rx="2.50" fill="#e2e2e2" opacity="1.0" filter="url(#blr)"/>
<rect x="351.3" y="595.00" width="25.00" height="4.6" rx="2.30" fill="#1e1e1e" opacity="1.0" filter="url(#blr)"/>
<path d="M385,595.3 Q385,593.8 387,593.8 L407,593.8 Q409,593.8 409,595.3 C409,599.96 403.0,601.5 397.0,601.5 C391.0,601.5 385,599.96 385,595.3 Z" fill="#0a0a0a" opacity="1.0" filter="url(#blr)"/>
<rect x="270" y="615.00" width="28.00" height="8" rx="4.00" fill="#c0c0c0" opacity="0.6" filter="url(#blr2)"/>
<rect x="271" y="620.20" width="15.00" height="7" rx="3.50" fill="#0c0c0c" opacity="1.0" filter="url(#blr)"/>
<rect x="283" y="621.10" width="15.50" height="5.2" rx="2.60" fill="#5a5a5a" opacity="1.0" filter="url(#blr)"/>
<rect x="307" y="621.25" width="28.00" height="5.5" rx="2.75" fill="#c8c8c8" opacity="1.0" filter="url(#blr)"/>
<rect x="351.9" y="623.40" width="25.60" height="3.8" rx="1.90" fill="#858585" opacity="1.0" filter="url(#blr)"/>
<rect x="388.2" y="622.40" width="22.50" height="6.2" rx="3.10" fill="#111" opacity="1.0" filter="url(#blr)"/>
<rect x="270.4" y="644.00" width="31.20" height="8.6" rx="4.00" fill="#0a0a0a" opacity="1.0" filter="url(#blr)"/>
<rect x="305.5" y="644.10" width="29.90" height="9" rx="4.00" fill="#0a0a0a" opacity="1.0" filter="url(#blr)"/>
<rect x="349.4" y="642.40" width="30.60" height="8.8" rx="4.00" fill="#0a0a0a" opacity="1.0" filter="url(#blr)"/>
<rect x="386.3" y="643.10" width="27.50" height="7.4" rx="3.70" fill="#161616" opacity="1.0" filter="url(#blr)"/>
<rect x="271.7" y="711.70" width="26.00" height="5.8" rx="2.90" fill="#303030" opacity="1.0" filter="url(#blr)"/>
<rect x="304.9" y="713.30" width="28.50" height="3.6" rx="1.80" fill="#b8b8b8" opacity="1.0" filter="url(#blr)"/>
<rect x="350.3" y="712.60" width="26.70" height="4.2" rx="2.10" fill="#6a6a6a" opacity="1.0" filter="url(#blr)"/>
<path d="M384.8,710.8 Q384.8,709.3 386.8,709.3 L409.7,709.3 Q411.7,709.3 411.7,710.8 C411.7,715.86 404.975,717.5 398.25,717.5 C391.525,717.5 384.8,715.86 384.8,710.8 Z" fill="#0a0a0a" opacity="1.0" filter="url(#blr)"/>
<rect x="272" y="731.00" width="28.00" height="6" rx="3.00" fill="#909090" opacity="0.5" filter="url(#blr2)"/>
<rect x="272.1" y="735.20" width="28.20" height="5.6" rx="2.80" fill="#1c1c1c" opacity="1.0" filter="url(#blr)"/>
<rect x="306.8" y="736.00" width="26.60" height="5.0" rx="2.50" fill="#7a7a7a" opacity="1.0" filter="url(#blr)"/>
<rect x="348.5" y="738.40" width="27.70" height="4.0" rx="2.00" fill="#8a8a8a" opacity="1.0" filter="url(#blr)"/>
<rect x="384" y="736.70" width="27.40" height="6.2" rx="3.10" fill="#222" opacity="1.0" filter="url(#blr)"/>
<rect x="270.8" y="759.00" width="30.80" height="7.8" rx="3.90" fill="#0a0a0a" opacity="1.0" filter="url(#blr)"/>
<rect x="307.2" y="760.60" width="26.90" height="6.8" rx="3.40" fill="#101010" opacity="1.0" filter="url(#blr)"/>
<rect x="346.9" y="758.80" width="30.80" height="8" rx="4.00" fill="#0a0a0a" opacity="1.0" filter="url(#blr)"/>
<rect x="382.4" y="758.80" width="29.30" height="8" rx="4.00" fill="#0c0c0c" opacity="1.0" filter="url(#blr)"/>
<text x="458.2" y="567.4" font-size="13.2" font-weight="bold" text-anchor="start" textLength="7.1" lengthAdjust="spacingAndGlyphs" fill="#111"  stroke="#111" stroke-width="0.3">F</text>
<rect x="509.4" y="577.0" width="89.6" height="24.80" fill="#e8e8e8" stroke="#111" stroke-width="1.6" rx="0.8"/>
<rect x="509.4" y="606.2" width="89.6" height="25.20" fill="#e8e8e8" stroke="#111" stroke-width="1.6" rx="0.8"/>
<rect x="509.4" y="678.4" width="89.6" height="25.20" fill="#e8e8e8" stroke="#111" stroke-width="1.6" rx="0.8"/>
<rect x="509.4" y="708.0" width="89.6" height="25.20" fill="#e8e8e8" stroke="#111" stroke-width="1.6" rx="0.8"/>
<text x="470.0" y="593.8" font-size="10.6" font-weight="bold" text-anchor="start" textLength="36.2" lengthAdjust="spacingAndGlyphs" fill="#111"  stroke="#111" stroke-width="0.3">HJURP</text>
<text x="470.8" y="623.3" font-size="10.6" font-weight="bold" text-anchor="start" textLength="35.4" lengthAdjust="spacingAndGlyphs" fill="#111"  stroke="#111" stroke-width="0.3">SPHK1</text>
<text x="470.1" y="696.3" font-size="10.6" font-weight="bold" text-anchor="start" textLength="36.1" lengthAdjust="spacingAndGlyphs" fill="#111"  stroke="#111" stroke-width="0.3">SPHK1</text>
<text x="470.1" y="724.4" font-size="10.6" font-weight="bold" text-anchor="start" textLength="36.1" lengthAdjust="spacingAndGlyphs" fill="#111"  stroke="#111" stroke-width="0.3">HJURP</text>
<text transform="translate(522.5,573.0) rotate(-32)" font-size="10.5" font-weight="bold" textLength="25.8" lengthAdjust="spacingAndGlyphs" fill="#111" stroke="#111" stroke-width="0.3">Input</text>
<text transform="translate(557.5,571.5) rotate(-32)" font-size="10.3" font-weight="bold" textLength="17.0" lengthAdjust="spacingAndGlyphs" fill="#111" stroke="#111" stroke-width="0.3">IgG</text>
<text transform="translate(584.5,573.5) rotate(-30)" font-size="10.6" font-weight="bold" textLength="58.0" lengthAdjust="spacingAndGlyphs" fill="#111" stroke="#111" stroke-width="0.3">Anti-HJURP</text>
<text transform="translate(518.0,674.5) rotate(-32)" font-size="10.5" font-weight="bold" textLength="26.0" lengthAdjust="spacingAndGlyphs" fill="#111" stroke="#111" stroke-width="0.3">Input</text>
<text transform="translate(549.0,673.0) rotate(-32)" font-size="10.3" font-weight="bold" textLength="17.0" lengthAdjust="spacingAndGlyphs" fill="#111" stroke="#111" stroke-width="0.3">IgG</text>
<text transform="translate(575.0,676.5) rotate(-29)" font-size="10.6" font-weight="bold" textLength="60.0" lengthAdjust="spacingAndGlyphs" fill="#111" stroke="#111" stroke-width="0.3">Anti-SPHK1</text>
<rect x="514.6" y="585.05" width="26.40" height="10.7" rx="4.00" fill="#0a0a0a" opacity="1.0" filter="url(#blr)"/>
<rect x="573.2" y="588.05" width="21.10" height="6.3" rx="3.15" fill="#111" opacity="1.0" filter="url(#blr)"/>
<path d="M514.6,615.4 Q514.6,613.9 516.6,613.9 L535.5,613.9 Q537.5,613.9 537.5,615.4 C537.5,621.5 531.775,623.4 526.05,623.4 C520.325,623.4 514.6,621.5 514.6,615.4 Z" fill="#0a0a0a" opacity="1.0" filter="url(#blr)"/>
<path d="M569.7,615.4 Q569.7,613.9 571.7,613.9 L592.7,613.9 Q594.7,613.9 594.7,615.4 C594.7,623.58 588.45,626 582.2,626 C575.95,626 569.7,623.58 569.7,615.4 Z" fill="#0c0c0c" opacity="1.0" filter="url(#blr)"/>
<path d="M517.2,688.6 Q517.2,687.1 519.2,687.1 L540.2,687.1 Q542.2,687.1 542.2,688.6 C542.2,696.38 535.95,698.7 529.7,698.7 C523.45,698.7 517.2,696.38 517.2,688.6 Z" fill="#080808" opacity="1.0" filter="url(#blr)"/>
<path d="M570.9,690.7 Q570.9,689.2 572.9,689.2 L589.2,689.2 Q591.2,689.2 591.2,690.7 C591.2,694.16 586.125,695.4 581.05,695.4 C575.975,695.4 570.9,694.16 570.9,690.7 Z" fill="#121212" opacity="1.0" filter="url(#blr)"/>
<path d="M514.1,717.4 Q514.1,715.9 516.1,715.9 L537.9,715.9 Q539.9,715.9 539.9,717.4 C539.9,722.78 533.45,724.5 527.0,724.5 C520.55,724.5 514.1,722.78 514.1,717.4 Z" fill="#0a0a0a" opacity="1.0" filter="url(#blr)"/>
<rect x="572" y="722.00" width="24.00" height="8" rx="4.00" fill="#b0b0b0" opacity="0.7" filter="url(#blr2)"/>
<path d="M570.9,715.7 Q570.9,714.2 572.9,714.2 L593.5,714.2 Q595.5,714.2 595.5,715.7 C595.5,721.0799999999999 589.35,722.8 583.2,722.8 C577.05,722.8 570.9,721.0799999999999 570.9,715.7 Z" fill="#0e0e0e" opacity="1.0" filter="url(#blr)"/>
</svg>
</body></html>
